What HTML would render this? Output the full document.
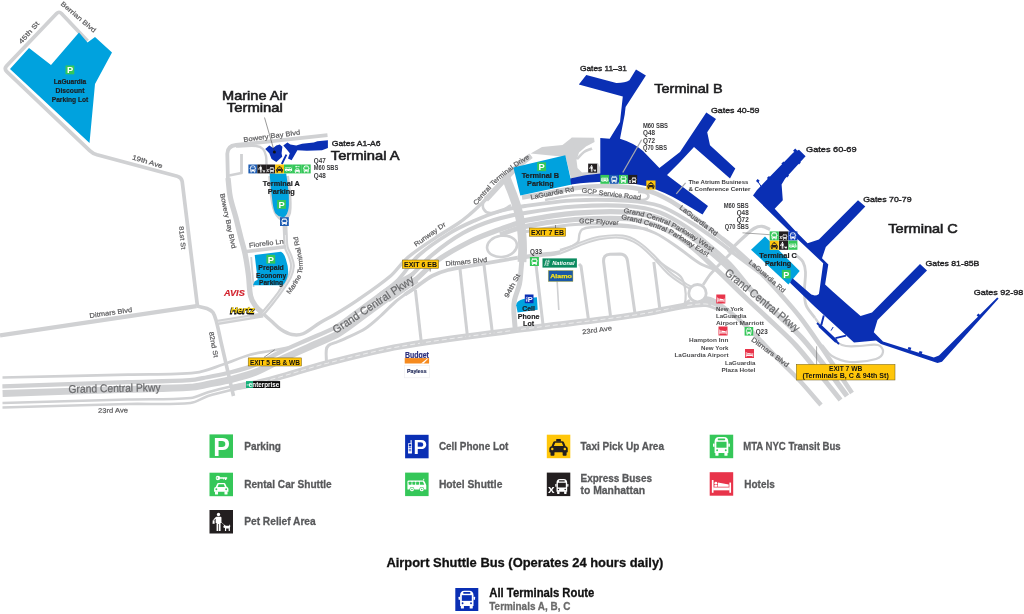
<!DOCTYPE html>
<html lang="en"><head><meta charset="utf-8"><title>LaGuardia Airport Map</title>
<style>
html,body{margin:0;padding:0;background:#fff;}
body{width:1024px;height:614px;overflow:hidden;font-family:"Liberation Sans",sans-serif;}
svg{display:block;will-change:transform;}
svg text{font-family:"Liberation Sans",sans-serif;}
</style></head><body>
<svg width="1024" height="614" viewBox="0 0 1024 614">
<rect width="1024" height="614" fill="#fff"/>
<g id="roads">
<path d="M87.5 41 L61.5 13.5 Q59 11 56.6 13.6 L6.5 66 Q4 69 6.8 71.6 L90 150.8 Q93 153.6 97 154.8 L177.3 176.2 Q181.6 177.4 182.2 181.5 L197.5 306.5" fill="none" stroke="#d0d1d3" stroke-width="3.7"/>
<path d="M0.0 335.3 L196.5 306.2" fill="none" stroke="#d0d1d3" stroke-width="4.30" stroke-linejoin="round" stroke-linecap="butt" />
<path d="M196.5 306.0 C200.0 306.8 203.7 307.2 207.0 308.5 C209.2 309.4 211.6 310.5 213.0 312.5 C214.9 315.3 215.6 318.7 216.5 322.0 C218.3 328.6 219.5 335.3 221.0 342.0 C225.1 360.0 229.3 378.0 233.5 396.0" fill="none" stroke="#d0d1d3" stroke-width="3.60" stroke-linejoin="round" stroke-linecap="butt" />
<path d="M216.5 322.6 L263.0 315.0" fill="none" stroke="#d0d1d3" stroke-width="5.20" stroke-linejoin="round" stroke-linecap="butt" />
<path d="M218.0 322.2 L250.0 317.0" fill="none" stroke="#fff" stroke-width="0.50" stroke-linejoin="round" stroke-linecap="butt" />
<path d="M327.5 135.2 L236 145 Q227.2 146 227.3 154 L228 183" fill="none" stroke="#d0d1d3" stroke-width="3.8"/>
<path d="M228.0 178.0 C228.8 184.4 229.0 190.9 230.3 197.3 C231.7 204.3 234.2 211.1 236.0 218.0 C237.8 225.0 239.5 232.0 241.2 239.0 C242.6 244.2 244.2 249.3 245.2 254.6 C246.6 261.5 247.6 268.4 248.5 275.4 C249.4 282.2 249.1 289.3 250.6 296.0 C251.4 299.6 253.4 303.0 255.5 306.0 C257.5 308.9 260.5 311.0 263.0 313.5" fill="none" stroke="#d0d1d3" stroke-width="5.30" stroke-linejoin="round" stroke-linecap="butt" />
<path d="M241.5 154.0 L241.5 173.0 L229.0 175.5" fill="none" stroke="#d0d1d3" stroke-width="2.80" stroke-linejoin="round" stroke-linecap="butt" />
<path d="M236.0 146.6 C242.7 146.4 249.4 145.4 256.0 146.0 C258.5 146.2 261.2 147.2 263.0 149.0 C264.8 150.8 265.5 153.5 266.0 156.0 C266.6 158.9 266.3 162.0 266.5 165.0" fill="none" stroke="#d0d1d3" stroke-width="2.40" stroke-linejoin="round" stroke-linecap="butt" />
<path d="M284.8 222.0 C285.0 226.3 285.2 230.7 285.4 235.0 C285.6 239.0 285.3 243.1 286.2 247.0 C286.9 250.2 289.0 252.9 290.0 256.0 C291.1 259.3 292.6 262.6 292.5 266.0 C292.4 269.8 291.1 273.6 289.5 277.0 C286.9 282.3 283.4 287.1 280.0 292.0 C276.9 296.5 273.4 300.7 270.0 305.0 C267.7 307.9 265.3 310.7 263.0 313.5" fill="none" stroke="#d0d1d3" stroke-width="4.80" stroke-linejoin="round" stroke-linecap="butt" />
<path d="M285.4 235.0 C285.7 239.0 285.3 243.1 286.2 247.0 C286.9 250.2 289.0 252.9 290.0 256.0 C291.1 259.3 292.6 262.6 292.5 266.0 C292.4 269.8 291.1 273.6 289.5 277.0 C286.9 282.3 283.4 287.1 280.0 292.0 C276.9 296.5 273.4 300.7 270.0 305.0 C267.7 307.9 265.3 310.7 263.0 313.5" fill="none" stroke="#fff" stroke-width="0.50" stroke-linejoin="round" stroke-linecap="butt" />
<path d="M246.5 251.5 L286.0 246.8" fill="none" stroke="#d0d1d3" stroke-width="3.60" stroke-linejoin="round" stroke-linecap="butt" />
<path d="M251.2 257.0 L253.6 287.0" fill="none" stroke="#d0d1d3" stroke-width="1.80" stroke-linejoin="round" stroke-linecap="butt" />
<path d="M263.0 313.5 C265.9 316.1 268.7 318.7 271.6 321.3 C274.7 324.1 277.5 327.2 281.0 329.5 C284.4 331.7 288.0 333.7 292.0 334.5 C295.6 335.2 299.6 335.1 303.0 333.7 C309.2 331.1 314.2 326.2 320.0 322.7 C324.6 319.9 329.4 317.7 334.0 315.0 C342.0 310.2 349.9 305.4 357.6 300.1 C368.7 292.5 379.9 285.0 390.2 276.3 C396.7 270.8 401.0 263.2 407.5 257.7 C416.9 249.8 427.4 243.3 437.6 236.4 C444.3 231.9 451.3 228.0 458.0 223.5 C461.8 220.9 465.3 218.1 468.8 215.2 C472.7 212.0 476.3 208.5 480.0 205.0 C483.4 201.8 486.8 198.6 490.1 195.2 C495.2 189.9 500.1 184.3 505.2 178.9 C509.3 174.6 513.3 170.2 517.7 166.3 C521.9 162.5 526.6 159.3 531.0 155.8" fill="none" stroke="#d0d1d3" stroke-width="3.40" stroke-linejoin="round" stroke-linecap="butt" />
<path d="M486.0 199.5 C487.4 198.1 488.7 196.6 490.1 195.2 C495.1 189.8 500.1 184.3 505.2 178.9 C509.3 174.6 513.3 170.2 517.7 166.3 C521.9 162.5 526.6 159.3 531.0 155.8" fill="none" stroke="#d0d1d3" stroke-width="5.60" stroke-linejoin="round" stroke-linecap="butt" />
<path d="M2.4 386.4 C44.2 385.0 86.0 383.6 127.9 382.2 C148.5 381.5 169.1 381.5 189.7 380.2 C195.6 379.8 201.4 378.3 207.2 377.2 C215.1 375.6 223.1 374.2 230.9 372.2 C238.7 370.3 246.5 368.3 253.9 365.2 C263.4 361.3 272.1 355.9 281.3 351.5 C290.2 347.3 299.2 343.5 308.2 339.5 C316.8 335.7 325.6 332.3 334.0 328.1 C337.0 326.6 339.7 324.4 342.4 322.4 C350.8 316.4 359.0 310.0 367.4 303.9 C375.8 297.8 384.1 291.6 392.8 285.8 C399.4 281.5 406.4 277.8 413.2 273.7" fill="none" stroke="#d0d1d3" stroke-width="4.20" stroke-linejoin="round" stroke-linecap="butt" />
<path d="M2.6 393.5 C44.4 392.1 86.3 390.7 128.1 389.3 C148.8 388.6 169.5 388.6 190.2 387.3 C196.4 386.9 202.4 385.3 208.5 384.2 C216.6 382.6 224.7 381.2 232.7 379.1 C240.8 377.0 248.9 375.0 256.6 371.8 C266.2 367.9 275.0 362.4 284.4 357.9 C293.2 353.8 302.2 349.9 311.1 346.0 C319.8 342.1 328.7 338.7 337.2 334.4 C340.6 332.7 343.5 330.4 346.6 328.2 C355.0 322.1 363.2 315.8 371.6 309.7 C379.9 303.6 388.1 297.4 396.7 291.8 C403.2 287.5 410.1 283.8 416.8 279.8" fill="none" stroke="#d0d1d3" stroke-width="6.90" stroke-linejoin="round" stroke-linecap="butt" />
<path d="M2.5 377.5 C44.3 376.5 86.2 375.6 128.0 374.6 C150.5 374.0 173.1 375.1 195.5 372.7 C205.0 371.7 213.9 367.5 223.0 364.5 C232.1 361.5 240.8 357.4 250.0 354.8 C256.5 352.9 263.3 352.3 270.0 351.0 C276.0 349.8 282.0 348.7 288.0 347.5" fill="none" stroke="#d0d1d3" stroke-width="2.70" stroke-linejoin="round" stroke-linecap="butt" />
<path d="M2.5 403.0 C44.3 401.8 86.2 400.6 128.0 399.5 C148.8 398.9 169.7 399.9 190.5 398.0 C196.6 397.4 202.1 393.9 208.0 392.2 C216.3 389.9 224.6 387.8 233.0 386.0 C240.3 384.4 247.7 383.3 255.0 382.0" fill="none" stroke="#d0d1d3" stroke-width="2.60" stroke-linejoin="round" stroke-linecap="butt" />
<path d="M2.5 407.5 C44.3 406.3 86.2 405.0 128.0 404.0 C148.8 403.5 169.8 405.1 190.5 403.0 C196.8 402.4 202.0 397.9 208.0 396.0 C216.2 393.4 224.6 391.5 233.0 389.5 C240.3 387.8 247.7 386.5 255.0 385.0" fill="none" stroke="#d0d1d3" stroke-width="2.60" stroke-linejoin="round" stroke-linecap="butt" />
<path d="M233.0 388.0 C240.3 386.5 247.7 385.2 255.0 383.5 C262.7 381.7 270.4 379.6 278.0 377.5 C294.7 372.8 311.2 367.3 328.0 363.0 C351.9 356.9 375.7 350.7 400.0 346.5 C439.8 339.6 480.0 334.9 520.0 329.5 C558.3 324.4 596.8 320.5 635.0 315.0 C651.8 312.6 668.3 308.4 685.0 305.8 C691.9 304.7 699.0 303.5 706.0 304.0 C710.9 304.4 715.3 307.0 720.0 308.5" fill="none" stroke="#d0d1d3" stroke-width="6.20" stroke-linejoin="round" stroke-linecap="butt" />
<path d="M255.0 383.5 C262.7 381.5 270.4 379.6 278.0 377.5 C294.7 372.8 311.2 367.3 328.0 363.0 C351.9 356.9 375.7 350.7 400.0 346.5 C439.8 339.6 480.0 334.9 520.0 329.5 C558.3 324.4 596.8 320.5 635.0 315.0 C651.8 312.6 668.3 308.4 685.0 305.8 C691.9 304.7 699.0 303.5 706.0 304.0 C710.9 304.4 715.3 307.0 720.0 308.5" fill="none" stroke="#fff" stroke-width="0.60" stroke-linejoin="round" stroke-linecap="butt" stroke-dasharray="5 3"/>
<path d="M326.5 362.5 C326.4 358.3 325.8 354.1 326.3 350.0 C326.5 348.3 327.2 346.5 328.5 345.5 C330.6 343.8 333.5 343.3 336.0 342.3 C339.0 341.0 342.1 340.0 345.0 338.6 C351.9 335.4 359.0 332.6 365.4 328.5 C370.7 325.1 375.3 320.7 380.0 316.5 C385.2 311.8 389.9 306.6 395.2 302.0 C398.3 299.3 401.7 296.9 405.0 294.5 C408.4 292.1 411.9 289.9 415.3 287.6" fill="none" stroke="#d0d1d3" stroke-width="3.00" stroke-linejoin="round" stroke-linecap="butt" />
<path d="M405.0 294.5 C408.4 292.2 411.9 289.9 415.3 287.6 C420.9 283.8 426.0 279.2 432.0 276.0 C437.0 273.3 442.5 271.4 448.0 270.0 C455.2 268.1 462.7 267.3 470.0 266.0 C485.9 263.2 501.9 260.5 517.8 257.7" fill="none" stroke="#d0d1d3" stroke-width="3.80" stroke-linejoin="round" stroke-linecap="butt" />
<path d="M517.8 257.7 C525.2 256.8 532.6 255.9 540.0 255.0 C546.7 254.1 553.5 254.1 560.0 252.3 C567.0 250.4 573.2 246.5 580.0 244.0 C586.2 241.7 592.5 239.1 599.0 238.0 C606.7 236.7 614.7 235.8 622.5 236.8 C628.0 237.5 633.3 240.0 638.0 243.0 C644.0 246.8 648.9 252.1 654.0 257.0 C659.3 262.1 663.5 268.1 669.0 273.0 C673.9 277.4 679.6 280.8 685.0 284.5 C686.9 285.8 689.0 286.8 691.0 288.0" fill="none" stroke="#d0d1d3" stroke-width="4.40" stroke-linejoin="round" stroke-linecap="butt" />
<path d="M560.0 252.3 C566.7 249.5 573.2 246.5 580.0 244.0 C586.2 241.7 592.5 239.1 599.0 238.0 C606.7 236.7 614.7 235.8 622.5 236.8 C628.0 237.5 633.3 240.0 638.0 243.0 C644.0 246.8 648.9 252.1 654.0 257.0 C659.3 262.1 663.5 268.1 669.0 273.0 C673.9 277.4 679.6 280.8 685.0 284.5 C686.9 285.8 689.0 286.8 691.0 288.0" fill="none" stroke="#fff" stroke-width="0.50" stroke-linejoin="round" stroke-linecap="butt" />
<path d="M415.4 290.0 L421.5 344.0" fill="none" stroke="#d0d1d3" stroke-width="3.00" stroke-linejoin="round" stroke-linecap="butt" />
<path d="M460.0 269.0 L467.5 337.0" fill="none" stroke="#d0d1d3" stroke-width="3.00" stroke-linejoin="round" stroke-linecap="butt" />
<path d="M484.0 265.0 L492.5 334.0" fill="none" stroke="#d0d1d3" stroke-width="3.00" stroke-linejoin="round" stroke-linecap="butt" />
<path d="M535.0 256.0 L543.5 329.0" fill="none" stroke="#d0d1d3" stroke-width="3.00" stroke-linejoin="round" stroke-linecap="butt" />
<path d="M556.5 270.0 L558.8 310.0" fill="none" stroke="#d0d1d3" stroke-width="1.60" stroke-linejoin="round" stroke-linecap="butt" />
<path d="M579.0 264.0 L581.0 266.0 L588.5 320.0" fill="none" stroke="#d0d1d3" stroke-width="3.00" stroke-linejoin="round" stroke-linecap="butt" />
<path d="M610.5 316 L603.6 262 Q603 254.5 610 254.3 L620 254.1 Q626.5 254.2 627.5 261 L635 313.5" fill="none" stroke="#d0d1d3" stroke-width="3"/>
<path d="M653.8 262.0 L660.0 310.0" fill="none" stroke="#d0d1d3" stroke-width="3.00" stroke-linejoin="round" stroke-linecap="butt" />
<path d="M505.5 176.0 C506.7 179.0 507.8 182.0 509.0 185.0 C510.3 188.4 511.8 191.8 513.0 195.2 C514.4 199.1 515.8 203.0 517.0 207.0 C518.2 211.0 519.3 214.9 520.0 219.0 C520.9 224.3 521.6 229.6 522.0 235.0 C522.4 240.0 522.6 245.0 522.6 250.0 C522.6 254.0 522.2 258.0 522.0 262.0" fill="none" stroke="#d0d1d3" stroke-width="8.80" stroke-linejoin="round" stroke-linecap="butt" />
<path d="M522.0 258.0 C521.7 262.0 521.4 266.0 521.0 270.0 C520.6 274.7 520.5 279.4 519.5 284.0 C518.3 289.5 515.7 294.5 514.5 300.0 C513.8 303.3 513.7 306.7 513.8 310.0 C514.0 317.4 514.9 324.7 515.5 332.0" fill="none" stroke="#d0d1d3" stroke-width="5.00" stroke-linejoin="round" stroke-linecap="butt" />
<path d="M522.0 197.5 C529.7 196.2 537.3 194.9 545.0 193.5 C554.0 191.9 562.9 189.7 572.0 188.5 C581.9 187.2 592.0 186.3 602.0 186.0 C609.7 185.8 617.4 186.2 625.0 187.0 C632.7 187.8 640.5 188.6 648.0 190.8 C655.0 192.8 661.6 196.0 668.0 199.5 C675.7 203.7 682.9 208.9 690.0 214.0 C700.0 221.2 709.7 228.9 719.5 236.5 C724.7 240.6 730.0 244.6 735.0 249.0 C743.5 256.5 751.9 264.0 760.0 272.0 C767.0 278.9 773.5 286.2 780.0 293.5 C786.8 301.2 793.7 308.9 800.0 317.0 C807.0 326.1 813.5 335.6 820.0 345.0 C826.8 354.9 833.3 365.0 840.0 375.0 C844.0 381.0 848.0 387.0 852.0 393.0" fill="none" stroke="#d0d1d3" stroke-width="4.60" stroke-linejoin="round" stroke-linecap="butt" />
<path d="M545.0 200.0 C555.0 198.4 564.9 195.9 575.0 195.3 C586.6 194.6 598.4 195.2 610.0 196.0 C618.7 196.6 627.3 198.6 636.0 199.5 C639.2 199.8 642.5 200.4 645.5 199.5 C647.0 199.1 648.6 197.5 648.5 196.0 C648.4 194.4 646.5 193.1 645.0 192.5 C642.8 191.7 640.3 192.2 638.0 192.0" fill="none" stroke="#d0d1d3" stroke-width="2.60" stroke-linejoin="round" stroke-linecap="butt" />
<path d="M378.0 296.0 C384.7 290.7 392.0 286.0 398.0 280.0 C405.4 272.6 410.3 263.0 418.0 256.0 C427.7 247.2 438.8 239.9 450.0 233.0 C457.9 228.1 466.5 224.3 475.0 220.5 C483.2 216.9 491.4 213.5 500.0 211.0 C508.2 208.6 516.6 207.2 525.0 206.0 C541.6 203.6 558.2 201.1 575.0 200.3 C592.6 199.4 610.4 199.6 628.0 200.8 C638.8 201.5 649.8 202.5 660.0 206.0 C670.7 209.7 680.3 216.2 690.0 222.0 C698.6 227.2 706.8 233.1 715.0 239.0 C723.5 245.1 731.6 251.7 740.0 258.0 C746.6 263.0 753.3 268.0 760.0 273.0" fill="none" stroke="#d0d1d3" stroke-width="3.80" stroke-linejoin="round" stroke-linecap="butt" />
<path d="M384.0 297.0 C391.0 291.8 398.5 287.2 405.0 281.5 C414.5 273.2 422.3 263.1 432.0 255.0 C441.7 246.9 452.0 239.2 463.0 233.0 C472.8 227.5 483.3 223.4 494.0 220.0 C504.1 216.7 514.6 214.7 525.0 213.0 C541.6 210.2 558.2 207.6 575.0 206.5 C592.6 205.3 610.4 204.8 628.0 206.0 C638.9 206.8 649.8 208.8 660.0 212.5 C670.0 216.2 679.1 222.1 688.0 228.0 C695.9 233.3 702.8 239.8 710.0 246.0 C716.8 251.8 723.8 257.5 730.0 264.0 C737.2 271.5 743.3 280.0 750.0 288.0" fill="none" stroke="#d0d1d3" stroke-width="4.20" stroke-linejoin="round" stroke-linecap="butt" />
<path d="M388.0 300.0 C395.3 294.8 403.0 290.1 410.0 284.5 C419.7 276.8 427.9 267.2 438.0 260.0 C448.0 252.8 459.0 247.1 470.0 241.5 C477.7 237.6 485.9 234.6 494.0 231.5 C500.9 228.8 508.0 226.5 515.0 224.0 C518.3 222.8 521.5 221.1 525.0 220.5 C541.6 217.5 558.2 214.6 575.0 213.2 C592.6 211.8 610.4 210.9 628.0 212.2 C639.6 213.0 651.2 215.3 662.0 219.5 C672.1 223.4 681.2 229.7 690.0 236.0 C701.2 243.9 711.7 252.9 722.0 262.0 C731.7 270.6 740.6 280.1 750.0 289.0 C759.9 298.4 770.0 307.6 780.0 317.0 C787.4 324.0 795.1 330.5 802.0 338.0 C809.8 346.6 816.9 355.8 824.0 365.0 C831.9 375.2 839.3 385.7 847.0 396.0" fill="none" stroke="#d0d1d3" stroke-width="5.20" stroke-linejoin="round" stroke-linecap="butt" />
<path d="M500.0 234.5 C508.3 231.8 516.4 228.2 525.0 226.5 C541.5 223.2 558.2 220.9 575.0 219.6 C592.6 218.3 610.4 217.3 628.0 218.8 C639.0 219.8 649.8 222.7 660.0 227.0 C670.1 231.2 679.3 237.4 688.0 244.0 C698.0 251.5 706.8 260.5 716.0 269.0 C725.8 278.1 735.2 287.8 745.0 297.0 C754.6 306.1 764.4 314.9 774.0 324.0 C781.4 331.1 789.1 337.9 796.0 345.5 C803.8 354.0 810.7 363.1 818.0 372.0 C825.6 381.3 833.0 390.7 840.5 400.0" fill="none" stroke="#d0d1d3" stroke-width="5.00" stroke-linejoin="round" stroke-linecap="butt" />
<path d="M523.0 232.0 C540.3 229.5 557.5 225.6 575.0 224.5 C592.6 223.4 610.4 223.6 628.0 225.5 C637.3 226.5 646.5 229.2 655.0 233.0 C664.0 237.1 671.8 243.4 680.0 249.0 C686.8 253.6 692.9 259.4 700.0 263.5 C705.0 266.4 710.7 267.8 716.0 270.0" fill="none" stroke="#d0d1d3" stroke-width="3.00" stroke-linejoin="round" stroke-linecap="butt" />
<path d="M560.0 250.0 C564.0 248.7 568.1 247.7 572.0 246.0 C574.2 245.0 576.7 244.0 578.0 242.0 C579.4 239.7 578.7 236.6 579.5 234.0 C580.0 232.4 580.5 230.4 582.0 229.5 C584.7 227.9 587.9 227.5 591.0 227.3 C600.6 226.5 610.3 226.2 620.0 226.5 C629.4 226.8 638.7 228.2 648.0 229.0" fill="none" stroke="#d0d1d3" stroke-width="2.40" stroke-linejoin="round" stroke-linecap="butt" />
<path d="M656.0 259.0 C660.0 262.0 663.9 265.1 668.0 268.0 C672.3 271.1 677.6 273.0 681.0 277.0 C683.5 280.0 684.3 284.2 685.0 288.0 C685.8 291.9 685.9 296.0 685.5 300.0 C685.2 302.8 683.8 305.3 683.0 308.0" fill="none" stroke="#d0d1d3" stroke-width="2.20" stroke-linejoin="round" stroke-linecap="butt" />
<ellipse cx="502" cy="246.3" rx="15" ry="10.6" fill="none" stroke="#d0d1d3" stroke-width="2.6" transform="rotate(-8 502 246.3)"/>
<path d="M492.7 192.6 C490.6 194.1 488.2 195.1 486.5 197.0 C485.0 198.7 483.7 200.8 483.2 203.0 C482.7 204.9 482.6 207.3 483.6 209.0 C484.7 210.9 486.7 212.6 488.9 212.9 C492.7 213.5 496.6 212.8 500.2 211.5 C504.2 210.1 507.4 207.2 511.0 205.0" fill="none" stroke="#d0d1d3" stroke-width="2.60" stroke-linejoin="round" stroke-linecap="butt" />
<path d="M728.0 252.0 C733.7 246.7 739.2 241.2 745.0 236.0 C747.9 233.4 750.6 230.4 754.0 228.5 C756.4 227.1 759.2 226.1 762.0 226.3 C764.9 226.5 767.3 228.4 770.0 229.5" fill="none" stroke="#d0d1d3" stroke-width="3.20" stroke-linejoin="round" stroke-linecap="butt" />
<path d="M796.0 255.0 C798.3 257.3 801.4 259.1 803.0 262.0 C804.7 265.0 805.3 268.6 805.5 272.0 C805.8 278.0 804.4 284.0 804.5 290.0 C804.6 295.0 804.2 300.3 806.0 305.0 C807.9 309.9 812.0 313.7 815.0 318.0" fill="none" stroke="#d0d1d3" stroke-width="2.80" stroke-linejoin="round" stroke-linecap="butt" />
<circle cx="697.5" cy="293.2" r="8.7" fill="none" stroke="#d0d1d3" stroke-width="2.8"/>
<path d="M703.0 285.0 C705.0 282.0 706.8 278.9 709.0 276.0 C711.2 273.2 713.6 270.6 716.0 268.0 C719.2 264.6 722.7 261.3 726.0 258.0 C728.7 255.3 731.3 252.7 734.0 250.0" fill="none" stroke="#d0d1d3" stroke-width="2.80" stroke-linejoin="round" stroke-linecap="butt" />
<path d="M706.0 297.5 C708.0 298.0 710.1 298.1 712.0 299.0 C714.9 300.3 717.3 302.3 720.0 304.0" fill="none" stroke="#d0d1d3" stroke-width="3.00" stroke-linejoin="round" stroke-linecap="butt" />
<path d="M690.0 300.0 C687.3 301.8 685.0 304.3 682.0 305.5 C678.9 306.8 675.3 306.8 672.0 307.5" fill="none" stroke="#d0d1d3" stroke-width="2.60" stroke-linejoin="round" stroke-linecap="butt" />
<path d="M704.0 299.0 C708.0 300.0 712.5 299.8 716.0 302.0 C726.4 308.6 735.9 316.6 745.0 325.0 C757.3 336.3 768.3 349.1 780.0 361.0 C786.6 367.7 793.6 374.1 800.0 381.0 C807.2 388.8 814.0 397.0 821.0 405.0" fill="none" stroke="#d0d1d3" stroke-width="4.40" stroke-linejoin="round" stroke-linecap="butt" />
<path d="M815.0 318.0 C818.7 322.7 821.8 327.8 826.0 332.0 C830.9 336.9 835.6 342.4 842.0 345.0 C847.6 347.3 854.0 346.0 860.0 346.0 C866.0 346.0 872.2 343.5 878.0 345.0 C880.8 345.7 883.4 349.2 883.0 352.0 C882.5 355.3 879.2 358.0 876.0 359.0 C867.7 361.5 858.7 362.6 850.0 362.0 C843.7 361.6 837.4 359.3 832.0 356.0 C827.8 353.4 825.3 348.7 822.0 345.0" fill="none" stroke="#d0d1d3" stroke-width="2.20" stroke-linejoin="round" stroke-linecap="butt" />
</g>
<g id="shapes">
<polygon points="563.0,150.0 572.0,137.5 594.0,137.8 594.6,142.0 586.0,146.5 579.0,152.5 576.5,160.0 577.5,168.0 582.0,172.5 588.0,172.0 588.0,163.0 598.0,163.0 600.3,168.0 600.3,174.0 585.0,175.5 571.0,178.6 565.5,156.0" fill="#d0d1d3" />
<path d="M577.0 159.0 C579.3 156.7 581.3 153.9 584.0 152.0 C586.4 150.3 589.3 149.7 592.0 148.5" fill="none" stroke="#d0d1d3" stroke-width="2.60" stroke-linejoin="round" stroke-linecap="butt" />
<polygon points="530.6,153.4 542.0,147.0 562.5,145.0 572.0,137.5 575.0,150.0 566.0,157.0" fill="#d0d1d3" />
<polygon points="10.0,69.0 29.0,48.0 51.0,65.0 79.0,32.5 87.5,42.5 95.0,37.0 112.0,52.5 95.0,84.0 89.5,143.0" fill="#00a2de" />
<path fill="none" stroke="#d0d1d3" stroke-width="4" stroke-linejoin="round" d="M270.2 176 L271.4 190 Q272.4 204 275.6 212 Q279 219 284 219.6 Q289.5 217 289.6 208 Q290 198 288.2 185 L287 176"/>
<path fill="#00a2de" d="M269.6 173.4 L286.2 173.4 L287.7 184.5 Q289.4 196 288.9 205 Q288.6 212 285.7 215.8 Q284 217.6 282.6 217.3 Q278 216.5 275.6 213.5 Q273.4 210 272.6 203 L271 189.4 Z"/>
<path fill="#00a2de" d="M254.7 254.9 L281 251.7 Q284 253 285.8 259 Q288.8 268 288 274 Q287 281 282.8 285.2 L253 285.2 L254.7 281.2 L257.6 279.8 Z"/>
<polygon points="513.4,167.5 565.3,155.3 571.9,184.4 520.3,195.6" fill="#00a2de" />
<polygon points="751.0,249.7 765.0,236.5 799.7,270.9 788.4,284.4" fill="#00a2de" />
<path fill="#00a2de" d="M516.2 305.2 Q516.6 301.6 520.5 300 Q526 297.8 536.9 297.2 L537.7 309.8 L517.6 312.5 Z"/>
<polygon points="265.2,149.0 269.3,145.6 273.2,148.0 276.3,145.6 279.8,144.4 282.4,146.8 281.6,153.2 282.2,156.8 276.3,162.0 271.6,159.0 269.3,153.2" fill="#0a2fb4" />
<path d="M281.8 164.0 L286.4 154.6" fill="none" stroke="#0a2fb4" stroke-width="1.90" stroke-linejoin="round" stroke-linecap="butt" />
<polygon points="283.3,145.5 287.4,142.6 290.4,144.4 296.2,145.5 302.1,143.8 313.8,142.6 317.4,141.2 327.9,140.2 327.9,147.9 322.0,150.2 306.8,150.8 297.4,150.2 291.6,160.2 288.0,158.4 289.8,153.2 287.4,150.2" fill="#0a2fb4" />
<path fill="#0a2fb4" d="M578.8 84.4 L586.3 75 L616.3 82.9 Q625 83 629.4 80.3 L636 69.4 L645.9 75.4 L625.6 106.9 L624.7 114.4 L620 138.8 Q634 143 643 151 L659.4 168 L680 152 L691.3 135 L706.3 112.5 L716 119 L707.2 132.2 L710 145.3 L735.3 168.5 L730 178.5 L694 147 L680 162 L667 175 L708 206 L702.5 214.4 L680 201 Q665 192 646 186 Q634 183 622 182.5 Q600 180.6 571 184.4 L570.3 178.4 Q585 174.8 600.3 173.5 L600.3 138 L609.7 138.8 L620 121.9 L622.8 96.6 Z"/>
<path fill="#0a2fb4" d="M799 149.7 L805.6 156.3 L785 178.8 L781.6 184.4 L782.8 200.3 L774.7 208.8 L796.3 232 L807.6 243.2 L818.9 239.4 L858 200.3 L865.3 206.5 L842.7 230 L825.8 246.9 L822 258.2 L828.3 264.5 L825.1 284.5 L832.7 291.4 L850.2 307 L860.6 316 L872 312.5 L920 264 L927 270.6 L877.5 320 L873.8 332.2 L883 341.5 L933.8 357.5 L939 355.6 L997.2 297.4 L998.6 298.6 L942 361.8 L937.5 363 L881 344 L876 340.4 L854 342.5 L815.1 307 L790 282.7 L792.5 278.3 L811.3 294.6 Q815.5 296.5 818.9 293.9 L819.5 290.2 L823.2 263.2 L796.9 238.6 L753 195.6 L757 190 L793.4 152.5 Z"/>
<rect x="793.7" y="149.2" width="3" height="3" fill="#0a2fb4" transform="rotate(45 795.2 150.7)"/>
<rect x="782.0" y="162.0" width="3" height="3" fill="#0a2fb4" transform="rotate(45 783.5 163.5)"/>
<rect x="767.5" y="176.5" width="3" height="3" fill="#0a2fb4" transform="rotate(45 769.0 178.0)"/>
<rect x="797.7" y="161.3" width="2.6" height="2.6" fill="#0a2fb4" transform="rotate(45 799.0 162.6)"/>
<rect x="785.9" y="174.3" width="2.6" height="2.6" fill="#0a2fb4" transform="rotate(45 787.2 175.6)"/>
<path d="M761.5 187.0 L758.2 182.0" fill="none" stroke="#0a2fb4" stroke-width="1.00" stroke-linejoin="round" stroke-linecap="butt" />
<rect x="756.5" y="179.6" width="2.6" height="2.6" fill="#0a2fb4" transform="rotate(40 757.8 180.9)"/>
<rect x="977.1" y="314.1" width="3" height="2.6" fill="#0a2fb4" transform="rotate(45 978.6 315.4)"/>
<rect x="908.0" y="347.3" width="3" height="2.6" fill="#0a2fb4" transform="rotate(18 909.5 348.6)"/>
<rect x="919.1" y="351.3" width="3" height="2.6" fill="#0a2fb4" transform="rotate(18 920.6 352.6)"/>
<path d="M819.5 325.5 L836.5 341.5" fill="none" stroke="#0a2fb4" stroke-width="3.40" stroke-linejoin="round" stroke-linecap="butt" />
<path d="M817.0 323.0 L839.0 344.0" fill="none" stroke="#0a2fb4" stroke-width="1.80" stroke-linejoin="round" stroke-linecap="butt" />
<path d="M823.8 315.5 L821.3 325.0" fill="none" stroke="#0a2fb4" stroke-width="1.90" stroke-linejoin="round" stroke-linecap="butt" />
<path d="M835.5 338.2 L846.0 335.6" fill="none" stroke="#0a2fb4" stroke-width="1.90" stroke-linejoin="round" stroke-linecap="butt" />
<path d="M833.2 327.0 L831.0 330.6" fill="none" stroke="#0a2fb4" stroke-width="1.00" stroke-linejoin="round" stroke-linecap="butt" />
</g>
<g id="icons">
<g transform="translate(65.50 65.50) scale(0.3667)"><rect width="24" height="24" fill="#35c759"/><text x="12.3" y="21.6" font-size="25.4" font-weight="bold" text-anchor="middle" fill="#fff">P</text></g>
<g transform="translate(277.10 200.00) scale(0.3667)"><rect width="24" height="24" fill="#35c759"/><text x="12.3" y="21.6" font-size="25.4" font-weight="bold" text-anchor="middle" fill="#fff">P</text></g>
<g transform="translate(266.40 254.80) scale(0.3667)"><rect width="24" height="24" fill="#35c759"/><text x="12.3" y="21.6" font-size="25.4" font-weight="bold" text-anchor="middle" fill="#fff">P</text></g>
<g transform="translate(537.20 162.30) scale(0.3667)"><rect width="24" height="24" fill="#35c759"/><text x="12.3" y="21.6" font-size="25.4" font-weight="bold" text-anchor="middle" fill="#fff">P</text></g>
<g transform="translate(781.90 269.80) scale(0.3583)"><rect width="24" height="24" fill="#35c759"/><text x="12.3" y="21.6" font-size="25.4" font-weight="bold" text-anchor="middle" fill="#fff">P</text></g>
<g transform="translate(524.80 294.50) scale(0.3625)"><rect width="24" height="24" fill="#0a2fb4"/><rect x="3" y="8.6" width="4" height="10.6" rx="0.4" fill="#fff"/><rect x="5.6" y="5.4" width="1.1" height="3.6" fill="#fff"/><rect x="3.7" y="9.6" width="2.6" height="2.2" fill="#0a2fb4"/><rect x="3.7" y="12.8" width="2.6" height="0.7" fill="#0a2fb4"/><rect x="3.7" y="14.4" width="2.6" height="0.7" fill="#0a2fb4"/><rect x="3.7" y="16" width="2.6" height="0.7" fill="#0a2fb4"/><text x="15.3" y="19.6" font-size="20.5" font-weight="bold" text-anchor="middle" fill="#fff">P</text></g>
<g transform="translate(248.40 164.50) scale(0.3708)"><rect width="24" height="24" fill="#1d5cb2"/><g transform="translate(0 -1.0) scale(1 1.06)"><g transform="translate(0.00 0) scale(1.000 1)"><path fill="#fff" d="M5 8.2 Q5 3.6 9.5 3.6 L14.5 3.6 Q19 3.6 19 8.2 L19 18.6 L5 18.6 Z"/><rect x="3.4" y="9.6" width="1.6" height="3" rx="0.5" fill="#fff"/><rect x="19" y="9.6" width="1.6" height="3" rx="0.5" fill="#fff"/><rect x="5.8" y="18" width="3.2" height="3.2" rx="0.6" fill="#fff"/><rect x="15" y="18" width="3.2" height="3.2" rx="0.6" fill="#fff"/><rect x="8.2" y="5" width="7.6" height="1.5" rx="0.6" fill="#1d5cb2"/><path fill="#1d5cb2" d="M6.8 8 L17.2 8 L17.2 13.6 L6.8 13.6 Z"/><circle cx="7.6" cy="16" r="0.95" fill="#1d5cb2"/><circle cx="16.4" cy="16" r="0.95" fill="#1d5cb2"/></g></g></g>
<g transform="translate(257.30 164.50) scale(0.3708)"><rect width="24" height="24" fill="#231f20"/><circle cx="9.2" cy="4.6" r="1.7" fill="#fff"/><path fill="#fff" d="M7 6.8 L11.4 6.8 Q12.2 6.8 12.2 7.8 L12.2 13.4 L11.3 13.4 L11.3 21.4 L9.6 21.4 L9.6 14.4 L8.9 14.4 L8.9 21.4 L7.2 21.4 L7.2 13.4 L6.3 13.4 L6.3 9 L4.6 10.4 L4 9.6 L6.2 7.4 Q6.5 6.8 7 6.8 Z"/><path fill="#fff" d="M3.3 10.4 L5.1 10.4 L5.3 14 L3.1 14 Z"/><path stroke="#fff" stroke-width="0.5" fill="none" d="M12 12.6 L15.8 16"/><path fill="#fff" d="M14.2 16.6 L15.4 15 L16.6 16 L20 16 L20.8 14.6 L21.2 16.6 L20.8 18 L20.8 21.4 L19.6 21.4 L19.6 19 L17 19 L17 21.4 L15.8 21.4 L15.8 18.4 L14.2 17.8 Z"/></g>
<g transform="translate(266.20 164.50) scale(0.3708)"><rect width="24" height="24" fill="#231f20"/><g transform="translate(6.0 3.5) scale(0.78 0.86)"><g transform="translate(0.00 0) scale(1.000 1)"><path fill="#fff" d="M5 8.2 Q5 3.6 9.5 3.6 L14.5 3.6 Q19 3.6 19 8.2 L19 18.6 L5 18.6 Z"/><rect x="3.4" y="9.6" width="1.6" height="3" rx="0.5" fill="#fff"/><rect x="19" y="9.6" width="1.6" height="3" rx="0.5" fill="#fff"/><rect x="5.8" y="18" width="3.2" height="3.2" rx="0.6" fill="#fff"/><rect x="15" y="18" width="3.2" height="3.2" rx="0.6" fill="#fff"/><rect x="8.2" y="5" width="7.6" height="1.5" rx="0.6" fill="#231f20"/><path fill="#231f20" d="M6.8 8 L17.2 8 L17.2 13.6 L6.8 13.6 Z"/><circle cx="7.6" cy="16" r="0.95" fill="#231f20"/><circle cx="16.4" cy="16" r="0.95" fill="#231f20"/></g></g><text x="4.5" y="21.2" font-size="12" font-weight="bold" text-anchor="middle" fill="#fff">x</text></g>
<g transform="translate(275.10 164.50) scale(0.3708)"><rect width="24" height="24" fill="#ffc60a"/><g transform="translate(0.00 0.20) scale(1.000)"><rect x="9.6" y="4.2" width="4.8" height="2.6" rx="0.4" fill="#231f20"/><path fill="#231f20" d="M8.2 6.4 L15.8 6.4 Q17 6.4 17.5 7.6 L19.2 11.6 Q21.4 12 21.4 14 L21.4 17.6 L2.6 17.6 L2.6 14 Q2.6 12 4.8 11.6 L6.5 7.6 Q7 6.4 8.2 6.4 Z"/><rect x="3.8" y="17" width="4" height="4.4" rx="0.8" fill="#231f20"/><rect x="16.2" y="17" width="4" height="4.4" rx="0.8" fill="#231f20"/><path fill="#ffc60a" d="M8.6 8 L15.4 8 L16.8 11.4 L7.2 11.4 Z"/><circle cx="5.6" cy="14.4" r="1.25" fill="#ffc60a"/><circle cx="18.4" cy="14.4" r="1.25" fill="#ffc60a"/></g></g>
<g transform="translate(284.00 164.50) scale(0.3708)"><rect width="24" height="24" fill="#35c759"/><path fill="#fff" d="M3.6 8 L18 8 Q19.6 8 20.2 9.6 L21.6 13 L21.6 17.2 L2.4 17.2 L2.4 9.2 Q2.4 8 3.6 8 Z"/><path fill="#fff" d="M18.2 8 L18.8 6.2 L19.6 6.2 L19.4 8 Z"/><rect x="3.6" y="9.4" width="3" height="3" rx="0.4" fill="#35c759"/><rect x="7.4" y="9.4" width="3" height="3" rx="0.4" fill="#35c759"/><rect x="11.2" y="9.4" width="3" height="3" rx="0.4" fill="#35c759"/><path fill="#35c759" d="M15 9.4 L18.2 9.4 L19.6 12.4 L15 12.4 Z"/><circle cx="7" cy="17.2" r="2.5" fill="#35c759"/><circle cx="7" cy="17.2" r="1.9" fill="#fff"/><circle cx="7" cy="17.2" r="0.8" fill="#35c759"/><circle cx="17" cy="17.2" r="2.5" fill="#35c759"/><circle cx="17" cy="17.2" r="1.9" fill="#fff"/><circle cx="17" cy="17.2" r="0.8" fill="#35c759"/></g>
<g transform="translate(292.90 164.50) scale(0.3708)"><rect width="24" height="24" fill="#35c759"/><circle cx="8.6" cy="5.4" r="2.3" fill="#fff"/><circle cx="7.9" cy="5.4" r="0.75" fill="#35c759"/><path fill="#fff" d="M10 4.6 L18 4.6 L18 6.2 L17.2 6.2 L17.2 7.4 L15.8 7.4 L15.8 6.2 L15 6.2 L15 7 L14 7 L14 6.2 L10 6.2 Z"/><g transform="translate(2.64 5.60) scale(0.780)"><path fill="#fff" d="M8.2 6.4 L15.8 6.4 Q17 6.4 17.5 7.6 L19.2 11.6 Q21.4 12 21.4 14 L21.4 17.6 L2.6 17.6 L2.6 14 Q2.6 12 4.8 11.6 L6.5 7.6 Q7 6.4 8.2 6.4 Z"/><rect x="3.8" y="17" width="4" height="4.4" rx="0.8" fill="#fff"/><rect x="16.2" y="17" width="4" height="4.4" rx="0.8" fill="#fff"/><path fill="#35c759" d="M8.6 8 L15.4 8 L16.8 11.4 L7.2 11.4 Z"/><circle cx="5.6" cy="14.4" r="1.25" fill="#35c759"/><circle cx="18.4" cy="14.4" r="1.25" fill="#35c759"/></g></g>
<g transform="translate(301.80 164.50) scale(0.3708)"><rect width="24" height="24" fill="#35c759"/><g transform="translate(0 -1.52) scale(1 1.09)"><g transform="translate(0.00 0) scale(1.000 1)"><path fill="#fff" d="M5 8.2 Q5 3.6 9.5 3.6 L14.5 3.6 Q19 3.6 19 8.2 L19 18.6 L5 18.6 Z"/><rect x="3.4" y="9.6" width="1.6" height="3" rx="0.5" fill="#fff"/><rect x="19" y="9.6" width="1.6" height="3" rx="0.5" fill="#fff"/><rect x="5.8" y="18" width="3.2" height="3.2" rx="0.6" fill="#fff"/><rect x="15" y="18" width="3.2" height="3.2" rx="0.6" fill="#fff"/><rect x="8.2" y="5" width="7.6" height="1.5" rx="0.6" fill="#35c759"/><path fill="#35c759" d="M6.8 8 L17.2 8 L17.2 13.6 L6.8 13.6 Z"/><circle cx="7.6" cy="16" r="0.95" fill="#35c759"/><circle cx="16.4" cy="16" r="0.95" fill="#35c759"/></g></g></g>
<g transform="translate(280.00 217.20) scale(0.3667)"><rect width="24" height="24" fill="#1d5cb2"/><g transform="translate(0 -1.0) scale(1 1.06)"><g transform="translate(0.00 0) scale(1.000 1)"><path fill="#fff" d="M5 8.2 Q5 3.6 9.5 3.6 L14.5 3.6 Q19 3.6 19 8.2 L19 18.6 L5 18.6 Z"/><rect x="3.4" y="9.6" width="1.6" height="3" rx="0.5" fill="#fff"/><rect x="19" y="9.6" width="1.6" height="3" rx="0.5" fill="#fff"/><rect x="5.8" y="18" width="3.2" height="3.2" rx="0.6" fill="#fff"/><rect x="15" y="18" width="3.2" height="3.2" rx="0.6" fill="#fff"/><rect x="8.2" y="5" width="7.6" height="1.5" rx="0.6" fill="#1d5cb2"/><path fill="#1d5cb2" d="M6.8 8 L17.2 8 L17.2 13.6 L6.8 13.6 Z"/><circle cx="7.6" cy="16" r="0.95" fill="#1d5cb2"/><circle cx="16.4" cy="16" r="0.95" fill="#1d5cb2"/></g></g></g>
<g transform="translate(588.20 163.80) scale(0.3708)"><rect width="24" height="24" fill="#231f20"/><circle cx="9.2" cy="4.6" r="1.7" fill="#fff"/><path fill="#fff" d="M7 6.8 L11.4 6.8 Q12.2 6.8 12.2 7.8 L12.2 13.4 L11.3 13.4 L11.3 21.4 L9.6 21.4 L9.6 14.4 L8.9 14.4 L8.9 21.4 L7.2 21.4 L7.2 13.4 L6.3 13.4 L6.3 9 L4.6 10.4 L4 9.6 L6.2 7.4 Q6.5 6.8 7 6.8 Z"/><path fill="#fff" d="M3.3 10.4 L5.1 10.4 L5.3 14 L3.1 14 Z"/><path stroke="#fff" stroke-width="0.5" fill="none" d="M12 12.6 L15.8 16"/><path fill="#fff" d="M14.2 16.6 L15.4 15 L16.6 16 L20 16 L20.8 14.6 L21.2 16.6 L20.8 18 L20.8 21.4 L19.6 21.4 L19.6 19 L17 19 L17 21.4 L15.8 21.4 L15.8 18.4 L14.2 17.8 Z"/></g>
<g transform="translate(600.40 174.90) scale(0.3708)"><rect width="24" height="24" fill="#35c759"/><path fill="#fff" d="M3.6 8 L18 8 Q19.6 8 20.2 9.6 L21.6 13 L21.6 17.2 L2.4 17.2 L2.4 9.2 Q2.4 8 3.6 8 Z"/><path fill="#fff" d="M18.2 8 L18.8 6.2 L19.6 6.2 L19.4 8 Z"/><rect x="3.6" y="9.4" width="3" height="3" rx="0.4" fill="#35c759"/><rect x="7.4" y="9.4" width="3" height="3" rx="0.4" fill="#35c759"/><rect x="11.2" y="9.4" width="3" height="3" rx="0.4" fill="#35c759"/><path fill="#35c759" d="M15 9.4 L18.2 9.4 L19.6 12.4 L15 12.4 Z"/><circle cx="7" cy="17.2" r="2.5" fill="#35c759"/><circle cx="7" cy="17.2" r="1.9" fill="#fff"/><circle cx="7" cy="17.2" r="0.8" fill="#35c759"/><circle cx="17" cy="17.2" r="2.5" fill="#35c759"/><circle cx="17" cy="17.2" r="1.9" fill="#fff"/><circle cx="17" cy="17.2" r="0.8" fill="#35c759"/></g>
<g transform="translate(609.70 174.90) scale(0.3708)"><rect width="24" height="24" fill="#1d5cb2"/><g transform="translate(0 -1.0) scale(1 1.06)"><g transform="translate(0.00 0) scale(1.000 1)"><path fill="#fff" d="M5 8.2 Q5 3.6 9.5 3.6 L14.5 3.6 Q19 3.6 19 8.2 L19 18.6 L5 18.6 Z"/><rect x="3.4" y="9.6" width="1.6" height="3" rx="0.5" fill="#fff"/><rect x="19" y="9.6" width="1.6" height="3" rx="0.5" fill="#fff"/><rect x="5.8" y="18" width="3.2" height="3.2" rx="0.6" fill="#fff"/><rect x="15" y="18" width="3.2" height="3.2" rx="0.6" fill="#fff"/><rect x="8.2" y="5" width="7.6" height="1.5" rx="0.6" fill="#1d5cb2"/><path fill="#1d5cb2" d="M6.8 8 L17.2 8 L17.2 13.6 L6.8 13.6 Z"/><circle cx="7.6" cy="16" r="0.95" fill="#1d5cb2"/><circle cx="16.4" cy="16" r="0.95" fill="#1d5cb2"/></g></g></g>
<g transform="translate(619.00 174.90) scale(0.3708)"><rect width="24" height="24" fill="#35c759"/><g transform="translate(0 -1.52) scale(1 1.09)"><g transform="translate(0.00 0) scale(1.000 1)"><path fill="#fff" d="M5 8.2 Q5 3.6 9.5 3.6 L14.5 3.6 Q19 3.6 19 8.2 L19 18.6 L5 18.6 Z"/><rect x="3.4" y="9.6" width="1.6" height="3" rx="0.5" fill="#fff"/><rect x="19" y="9.6" width="1.6" height="3" rx="0.5" fill="#fff"/><rect x="5.8" y="18" width="3.2" height="3.2" rx="0.6" fill="#fff"/><rect x="15" y="18" width="3.2" height="3.2" rx="0.6" fill="#fff"/><rect x="8.2" y="5" width="7.6" height="1.5" rx="0.6" fill="#35c759"/><path fill="#35c759" d="M6.8 8 L17.2 8 L17.2 13.6 L6.8 13.6 Z"/><circle cx="7.6" cy="16" r="0.95" fill="#35c759"/><circle cx="16.4" cy="16" r="0.95" fill="#35c759"/></g></g></g>
<g transform="translate(628.30 174.90) scale(0.3708)"><rect width="24" height="24" fill="#231f20"/><g transform="translate(6.0 3.5) scale(0.78 0.86)"><g transform="translate(0.00 0) scale(1.000 1)"><path fill="#fff" d="M5 8.2 Q5 3.6 9.5 3.6 L14.5 3.6 Q19 3.6 19 8.2 L19 18.6 L5 18.6 Z"/><rect x="3.4" y="9.6" width="1.6" height="3" rx="0.5" fill="#fff"/><rect x="19" y="9.6" width="1.6" height="3" rx="0.5" fill="#fff"/><rect x="5.8" y="18" width="3.2" height="3.2" rx="0.6" fill="#fff"/><rect x="15" y="18" width="3.2" height="3.2" rx="0.6" fill="#fff"/><rect x="8.2" y="5" width="7.6" height="1.5" rx="0.6" fill="#231f20"/><path fill="#231f20" d="M6.8 8 L17.2 8 L17.2 13.6 L6.8 13.6 Z"/><circle cx="7.6" cy="16" r="0.95" fill="#231f20"/><circle cx="16.4" cy="16" r="0.95" fill="#231f20"/></g></g><text x="4.5" y="21.2" font-size="12" font-weight="bold" text-anchor="middle" fill="#fff">x</text></g>
<g transform="translate(646.30 180.50) scale(0.3833)"><rect width="24" height="24" fill="#ffc60a"/><g transform="translate(0.00 0.20) scale(1.000)"><rect x="9.6" y="4.2" width="4.8" height="2.6" rx="0.4" fill="#231f20"/><path fill="#231f20" d="M8.2 6.4 L15.8 6.4 Q17 6.4 17.5 7.6 L19.2 11.6 Q21.4 12 21.4 14 L21.4 17.6 L2.6 17.6 L2.6 14 Q2.6 12 4.8 11.6 L6.5 7.6 Q7 6.4 8.2 6.4 Z"/><rect x="3.8" y="17" width="4" height="4.4" rx="0.8" fill="#231f20"/><rect x="16.2" y="17" width="4" height="4.4" rx="0.8" fill="#231f20"/><path fill="#ffc60a" d="M8.6 8 L15.4 8 L16.8 11.4 L7.2 11.4 Z"/><circle cx="5.6" cy="14.4" r="1.25" fill="#ffc60a"/><circle cx="18.4" cy="14.4" r="1.25" fill="#ffc60a"/></g></g>
<g transform="translate(769.70 231.40) scale(0.3792)"><rect width="24" height="24" fill="#35c759"/><g transform="translate(0 -1.52) scale(1 1.09)"><g transform="translate(0.00 0) scale(1.000 1)"><path fill="#fff" d="M5 8.2 Q5 3.6 9.5 3.6 L14.5 3.6 Q19 3.6 19 8.2 L19 18.6 L5 18.6 Z"/><rect x="3.4" y="9.6" width="1.6" height="3" rx="0.5" fill="#fff"/><rect x="19" y="9.6" width="1.6" height="3" rx="0.5" fill="#fff"/><rect x="5.8" y="18" width="3.2" height="3.2" rx="0.6" fill="#fff"/><rect x="15" y="18" width="3.2" height="3.2" rx="0.6" fill="#fff"/><rect x="8.2" y="5" width="7.6" height="1.5" rx="0.6" fill="#35c759"/><path fill="#35c759" d="M6.8 8 L17.2 8 L17.2 13.6 L6.8 13.6 Z"/><circle cx="7.6" cy="16" r="0.95" fill="#35c759"/><circle cx="16.4" cy="16" r="0.95" fill="#35c759"/></g></g></g>
<g transform="translate(779.00 231.40) scale(0.3792)"><rect width="24" height="24" fill="#231f20"/><g transform="translate(6.0 3.5) scale(0.78 0.86)"><g transform="translate(0.00 0) scale(1.000 1)"><path fill="#fff" d="M5 8.2 Q5 3.6 9.5 3.6 L14.5 3.6 Q19 3.6 19 8.2 L19 18.6 L5 18.6 Z"/><rect x="3.4" y="9.6" width="1.6" height="3" rx="0.5" fill="#fff"/><rect x="19" y="9.6" width="1.6" height="3" rx="0.5" fill="#fff"/><rect x="5.8" y="18" width="3.2" height="3.2" rx="0.6" fill="#fff"/><rect x="15" y="18" width="3.2" height="3.2" rx="0.6" fill="#fff"/><rect x="8.2" y="5" width="7.6" height="1.5" rx="0.6" fill="#231f20"/><path fill="#231f20" d="M6.8 8 L17.2 8 L17.2 13.6 L6.8 13.6 Z"/><circle cx="7.6" cy="16" r="0.95" fill="#231f20"/><circle cx="16.4" cy="16" r="0.95" fill="#231f20"/></g></g><text x="4.5" y="21.2" font-size="12" font-weight="bold" text-anchor="middle" fill="#fff">x</text></g>
<g transform="translate(788.30 231.40) scale(0.3792)"><rect width="24" height="24" fill="#0f3db8"/><g transform="translate(0 -1.0) scale(1 1.06)"><g transform="translate(0.00 0) scale(1.000 1)"><path fill="#fff" d="M5 8.2 Q5 3.6 9.5 3.6 L14.5 3.6 Q19 3.6 19 8.2 L19 18.6 L5 18.6 Z"/><rect x="3.4" y="9.6" width="1.6" height="3" rx="0.5" fill="#fff"/><rect x="19" y="9.6" width="1.6" height="3" rx="0.5" fill="#fff"/><rect x="5.8" y="18" width="3.2" height="3.2" rx="0.6" fill="#fff"/><rect x="15" y="18" width="3.2" height="3.2" rx="0.6" fill="#fff"/><rect x="8.2" y="5" width="7.6" height="1.5" rx="0.6" fill="#0f3db8"/><path fill="#0f3db8" d="M6.8 8 L17.2 8 L17.2 13.6 L6.8 13.6 Z"/><circle cx="7.6" cy="16" r="0.95" fill="#0f3db8"/><circle cx="16.4" cy="16" r="0.95" fill="#0f3db8"/></g></g></g>
<g transform="translate(769.70 240.70) scale(0.3792)"><rect width="24" height="24" fill="#ffc60a"/><g transform="translate(0.00 0.20) scale(1.000)"><rect x="9.6" y="4.2" width="4.8" height="2.6" rx="0.4" fill="#231f20"/><path fill="#231f20" d="M8.2 6.4 L15.8 6.4 Q17 6.4 17.5 7.6 L19.2 11.6 Q21.4 12 21.4 14 L21.4 17.6 L2.6 17.6 L2.6 14 Q2.6 12 4.8 11.6 L6.5 7.6 Q7 6.4 8.2 6.4 Z"/><rect x="3.8" y="17" width="4" height="4.4" rx="0.8" fill="#231f20"/><rect x="16.2" y="17" width="4" height="4.4" rx="0.8" fill="#231f20"/><path fill="#ffc60a" d="M8.6 8 L15.4 8 L16.8 11.4 L7.2 11.4 Z"/><circle cx="5.6" cy="14.4" r="1.25" fill="#ffc60a"/><circle cx="18.4" cy="14.4" r="1.25" fill="#ffc60a"/></g></g>
<g transform="translate(779.00 240.70) scale(0.3792)"><rect width="24" height="24" fill="#231f20"/><circle cx="9.2" cy="4.6" r="1.7" fill="#fff"/><path fill="#fff" d="M7 6.8 L11.4 6.8 Q12.2 6.8 12.2 7.8 L12.2 13.4 L11.3 13.4 L11.3 21.4 L9.6 21.4 L9.6 14.4 L8.9 14.4 L8.9 21.4 L7.2 21.4 L7.2 13.4 L6.3 13.4 L6.3 9 L4.6 10.4 L4 9.6 L6.2 7.4 Q6.5 6.8 7 6.8 Z"/><path fill="#fff" d="M3.3 10.4 L5.1 10.4 L5.3 14 L3.1 14 Z"/><path stroke="#fff" stroke-width="0.5" fill="none" d="M12 12.6 L15.8 16"/><path fill="#fff" d="M14.2 16.6 L15.4 15 L16.6 16 L20 16 L20.8 14.6 L21.2 16.6 L20.8 18 L20.8 21.4 L19.6 21.4 L19.6 19 L17 19 L17 21.4 L15.8 21.4 L15.8 18.4 L14.2 17.8 Z"/></g>
<g transform="translate(788.30 240.70) scale(0.3792)"><rect width="24" height="24" fill="#35c759"/><path fill="#fff" d="M3.6 8 L18 8 Q19.6 8 20.2 9.6 L21.6 13 L21.6 17.2 L2.4 17.2 L2.4 9.2 Q2.4 8 3.6 8 Z"/><path fill="#fff" d="M18.2 8 L18.8 6.2 L19.6 6.2 L19.4 8 Z"/><rect x="3.6" y="9.4" width="3" height="3" rx="0.4" fill="#35c759"/><rect x="7.4" y="9.4" width="3" height="3" rx="0.4" fill="#35c759"/><rect x="11.2" y="9.4" width="3" height="3" rx="0.4" fill="#35c759"/><path fill="#35c759" d="M15 9.4 L18.2 9.4 L19.6 12.4 L15 12.4 Z"/><circle cx="7" cy="17.2" r="2.5" fill="#35c759"/><circle cx="7" cy="17.2" r="1.9" fill="#fff"/><circle cx="7" cy="17.2" r="0.8" fill="#35c759"/><circle cx="17" cy="17.2" r="2.5" fill="#35c759"/><circle cx="17" cy="17.2" r="1.9" fill="#fff"/><circle cx="17" cy="17.2" r="0.8" fill="#35c759"/></g>
<g transform="translate(529.90 257.00) scale(0.3750)"><rect width="24" height="24" fill="#35c759"/><g transform="translate(0 -1.52) scale(1 1.09)"><g transform="translate(0.00 0) scale(1.000 1)"><path fill="#fff" d="M5 8.2 Q5 3.6 9.5 3.6 L14.5 3.6 Q19 3.6 19 8.2 L19 18.6 L5 18.6 Z"/><rect x="3.4" y="9.6" width="1.6" height="3" rx="0.5" fill="#fff"/><rect x="19" y="9.6" width="1.6" height="3" rx="0.5" fill="#fff"/><rect x="5.8" y="18" width="3.2" height="3.2" rx="0.6" fill="#fff"/><rect x="15" y="18" width="3.2" height="3.2" rx="0.6" fill="#fff"/><rect x="8.2" y="5" width="7.6" height="1.5" rx="0.6" fill="#35c759"/><path fill="#35c759" d="M6.8 8 L17.2 8 L17.2 13.6 L6.8 13.6 Z"/><circle cx="7.6" cy="16" r="0.95" fill="#35c759"/><circle cx="16.4" cy="16" r="0.95" fill="#35c759"/></g></g></g>
<g transform="translate(744.60 327.00) scale(0.3583)"><rect width="24" height="24" fill="#35c759"/><g transform="translate(0 -1.52) scale(1 1.09)"><g transform="translate(0.00 0) scale(1.000 1)"><path fill="#fff" d="M5 8.2 Q5 3.6 9.5 3.6 L14.5 3.6 Q19 3.6 19 8.2 L19 18.6 L5 18.6 Z"/><rect x="3.4" y="9.6" width="1.6" height="3" rx="0.5" fill="#fff"/><rect x="19" y="9.6" width="1.6" height="3" rx="0.5" fill="#fff"/><rect x="5.8" y="18" width="3.2" height="3.2" rx="0.6" fill="#fff"/><rect x="15" y="18" width="3.2" height="3.2" rx="0.6" fill="#fff"/><rect x="8.2" y="5" width="7.6" height="1.5" rx="0.6" fill="#35c759"/><path fill="#35c759" d="M6.8 8 L17.2 8 L17.2 13.6 L6.8 13.6 Z"/><circle cx="7.6" cy="16" r="0.95" fill="#35c759"/><circle cx="16.4" cy="16" r="0.95" fill="#35c759"/></g></g></g>
<g transform="translate(716.30 294.50) scale(0.3750)"><rect width="24" height="24" fill="#e8344a"/><rect x="2.2" y="8" width="1.7" height="13" fill="#fff"/><rect x="20.1" y="10.6" width="1.7" height="10.4" fill="#fff"/><rect x="3.5" y="15.6" width="17" height="2.9" fill="#fff"/><path fill="#fff" d="M8.4 10.4 L19.4 12.6 L19.4 14.9 L8.4 14.9 Z"/><circle cx="6.3" cy="11.2" r="1.45" fill="#fff"/><rect x="4.8" y="13" width="3" height="1.9" fill="#fff"/></g>
<g transform="translate(718.50 326.50) scale(0.3750)"><rect width="24" height="24" fill="#e8344a"/><rect x="2.2" y="8" width="1.7" height="13" fill="#fff"/><rect x="20.1" y="10.6" width="1.7" height="10.4" fill="#fff"/><rect x="3.5" y="15.6" width="17" height="2.9" fill="#fff"/><path fill="#fff" d="M8.4 10.4 L19.4 12.6 L19.4 14.9 L8.4 14.9 Z"/><circle cx="6.3" cy="11.2" r="1.45" fill="#fff"/><rect x="4.8" y="13" width="3" height="1.9" fill="#fff"/></g>
<g transform="translate(745.00 349.00) scale(0.3750)"><rect width="24" height="24" fill="#e8344a"/><rect x="2.2" y="8" width="1.7" height="13" fill="#fff"/><rect x="20.1" y="10.6" width="1.7" height="10.4" fill="#fff"/><rect x="3.5" y="15.6" width="17" height="2.9" fill="#fff"/><path fill="#fff" d="M8.4 10.4 L19.4 12.6 L19.4 14.9 L8.4 14.9 Z"/><circle cx="6.3" cy="11.2" r="1.45" fill="#fff"/><rect x="4.8" y="13" width="3" height="1.9" fill="#fff"/></g>
</g>
<g id="labels">
<text transform="translate(28.8 32.5) rotate(-48.0)" x="0" y="2.41" font-size="6.70" fill="#5b5b5d" text-anchor="middle" stroke="#5b5b5d" stroke-width="0.20" textLength="27.0" lengthAdjust="spacingAndGlyphs" >45th St</text>
<text transform="translate(78.6 16.9) rotate(40.4)" x="0" y="2.41" font-size="6.70" fill="#5b5b5d" text-anchor="middle" stroke="#5b5b5d" stroke-width="0.20" textLength="44.0" lengthAdjust="spacingAndGlyphs" >Berrian Blvd</text>
<text transform="translate(147.5 161.5) rotate(17.0)" x="0" y="2.41" font-size="6.70" fill="#5b5b5d" text-anchor="middle" stroke="#5b5b5d" stroke-width="0.20" textLength="31.5" lengthAdjust="spacingAndGlyphs" >19th Ave</text>
<text transform="translate(182.5 237.8) rotate(84.0)" x="0" y="2.41" font-size="6.70" fill="#5b5b5d" text-anchor="middle" stroke="#5b5b5d" stroke-width="0.20" textLength="23.0" lengthAdjust="spacingAndGlyphs" >81st St</text>
<text transform="translate(228.3 220.8) rotate(78.0)" x="0" y="2.41" font-size="6.70" fill="#5b5b5d" text-anchor="middle" stroke="#5b5b5d" stroke-width="0.20" textLength="56.0" lengthAdjust="spacingAndGlyphs" >Bowery Bay Blvd</text>
<text transform="translate(110.8 312.5) rotate(-8.0)" x="0" y="2.41" font-size="6.70" fill="#5b5b5d" text-anchor="middle" stroke="#5b5b5d" stroke-width="0.20" textLength="43.0" lengthAdjust="spacingAndGlyphs" >Ditmars Blvd</text>
<text transform="translate(213.8 344.5) rotate(79.0)" x="0" y="2.41" font-size="6.70" fill="#5b5b5d" text-anchor="middle" stroke="#5b5b5d" stroke-width="0.20" textLength="26.0" lengthAdjust="spacingAndGlyphs" >82nd St</text>
<text transform="translate(114.5 388.0) rotate(-1.0)" x="0" y="4.07" font-size="11.30" fill="#68696b" text-anchor="middle" stroke="#68696b" stroke-width="0.20" textLength="92.0" lengthAdjust="spacingAndGlyphs" >Grand Central Pkwy</text>
<text transform="translate(113.0 410.3) rotate(-1.0)" x="0" y="2.41" font-size="6.70" fill="#5b5b5d" text-anchor="middle" stroke="#5b5b5d" stroke-width="0.20" textLength="30.0" lengthAdjust="spacingAndGlyphs" >23rd Ave</text>
<text transform="translate(271.8 135.8) rotate(-7.5)" x="0" y="2.41" font-size="6.70" fill="#5b5b5d" text-anchor="middle" stroke="#5b5b5d" stroke-width="0.20" textLength="57.0" lengthAdjust="spacingAndGlyphs" >Bowery Bay Blvd</text>
<text transform="translate(266.3 243.1) rotate(-7.0)" x="0" y="2.41" font-size="6.70" fill="#5b5b5d" text-anchor="middle" stroke="#5b5b5d" stroke-width="0.20" textLength="35.0" lengthAdjust="spacingAndGlyphs" >Fiorello Ln</text>
<path id="tp1" d="M289.8 294.5 C292.2 291.0 294.8 287.6 297.0 284.0 C298.7 281.1 300.7 278.2 301.5 275.0 C302.6 271.0 302.8 266.7 302.6 262.5 C302.4 258.3 301.3 254.2 300.5 250.0 C299.6 245.3 298.6 240.7 297.6 236.0" fill="none" stroke="none"/>
<text font-size="6.70" fill="#5b5b5d" textLength="62.0" lengthAdjust="spacingAndGlyphs" stroke="#5b5b5d" stroke-width="0.20"><textPath href="#tp1" startOffset="0">Marine Terminal Rd</textPath></text>
<text transform="translate(429.8 234.2) rotate(-35.0)" x="0" y="2.41" font-size="6.70" fill="#5b5b5d" text-anchor="middle" stroke="#5b5b5d" stroke-width="0.20" textLength="37.0" lengthAdjust="spacingAndGlyphs" >Runway Dr</text>
<path id="tp2" d="M476.2 205.6 C479.3 202.0 482.4 198.3 485.5 194.7 C488.7 191.1 491.7 187.2 495.2 183.9 C499.9 179.4 505.0 175.2 510.2 171.2 C514.2 168.1 518.4 165.2 522.7 162.5 C526.2 160.3 529.9 158.5 533.5 156.5" fill="none" stroke="none"/>
<text font-size="6.70" fill="#5b5b5d" textLength="72.0" lengthAdjust="spacingAndGlyphs" stroke="#5b5b5d" stroke-width="0.20"><textPath href="#tp2" startOffset="0">Central Terminal Drive</textPath></text>
<text transform="translate(466.3 261.5) rotate(-6.0)" x="0" y="2.41" font-size="6.70" fill="#5b5b5d" text-anchor="middle" stroke="#5b5b5d" stroke-width="0.20" textLength="42.0" lengthAdjust="spacingAndGlyphs" >Ditmars Blvd</text>
<text transform="translate(512.0 285.7) rotate(-62.0)" x="0" y="2.41" font-size="6.70" fill="#5b5b5d" text-anchor="middle" stroke="#5b5b5d" stroke-width="0.20" textLength="26.0" lengthAdjust="spacingAndGlyphs" >94th St</text>
<text transform="translate(373.2 304.4) rotate(-33.5)" x="0" y="4.07" font-size="11.30" fill="#68696b" text-anchor="middle" stroke="#68696b" stroke-width="0.20" textLength="95.0" lengthAdjust="spacingAndGlyphs" >Grand Central Pkwy</text>
<text transform="translate(597.0 329.8) rotate(-8.0)" x="0" y="2.41" font-size="6.70" fill="#5b5b5d" text-anchor="middle" stroke="#5b5b5d" stroke-width="0.20" textLength="30.0" lengthAdjust="spacingAndGlyphs" >23rd Ave</text>
<text transform="translate(552.2 193.0) rotate(-11.0)" x="0" y="2.41" font-size="6.70" fill="#5b5b5d" text-anchor="middle" stroke="#5b5b5d" stroke-width="0.20" textLength="44.0" lengthAdjust="spacingAndGlyphs" >LaGuardia Rd</text>
<text transform="translate(611.3 193.8) rotate(7.0)" x="0" y="2.41" font-size="6.70" fill="#5b5b5d" text-anchor="middle" stroke="#5b5b5d" stroke-width="0.20" textLength="59.5" lengthAdjust="spacingAndGlyphs" >GCP Service Road</text>
<text transform="translate(599.0 221.5) rotate(3.0)" x="0" y="2.41" font-size="6.70" fill="#5b5b5d" text-anchor="middle" stroke="#5b5b5d" stroke-width="0.20" textLength="39.6" lengthAdjust="spacingAndGlyphs" >GCP Flyover</text>
<path id="tp3" d="M623.3 212.4 C630.9 214.0 638.6 215.1 646.0 217.3 C654.0 219.6 661.9 222.3 669.4 225.8 C677.5 229.6 685.2 234.3 692.8 239.0 C699.2 242.9 705.4 247.2 711.5 251.6 C717.8 256.2 723.8 261.2 730.0 266.0" fill="none" stroke="none"/>
<text font-size="6.60" fill="#5b5b5d" textLength="98.0" lengthAdjust="spacingAndGlyphs" stroke="#5b5b5d" stroke-width="0.20"><textPath href="#tp3" startOffset="0">Grand Central Parkway West</textPath></text>
<path id="tp4" d="M621.0 218.8 C628.8 220.6 636.7 222.0 644.4 224.3 C652.4 226.7 660.3 229.2 667.8 232.8 C676.0 236.7 683.5 242.1 691.3 246.8 C696.7 250.1 702.3 253.3 707.5 257.0 C713.6 261.4 719.2 266.3 725.0 271.0" fill="none" stroke="none"/>
<text font-size="6.60" fill="#5b5b5d" textLength="95.0" lengthAdjust="spacingAndGlyphs" stroke="#5b5b5d" stroke-width="0.20"><textPath href="#tp4" startOffset="0">Grand Central Parkway East</textPath></text>
<text transform="translate(698.7 220.4) rotate(37.0)" x="0" y="2.41" font-size="6.70" fill="#5b5b5d" text-anchor="middle" stroke="#5b5b5d" stroke-width="0.20" textLength="45.8" lengthAdjust="spacingAndGlyphs" >LaGuardia Rd</text>
<text transform="translate(767.3 276.0) rotate(41.0)" x="0" y="2.41" font-size="6.70" fill="#5b5b5d" text-anchor="middle" stroke="#5b5b5d" stroke-width="0.20" textLength="46.0" lengthAdjust="spacingAndGlyphs" >LaGuardia Rd</text>
<text transform="translate(762.6 300.2) rotate(39.0)" x="0" y="4.07" font-size="11.30" fill="#68696b" text-anchor="middle" stroke="#68696b" stroke-width="0.20" textLength="93.0" lengthAdjust="spacingAndGlyphs" >Grand Central Pkwy</text>
<text transform="translate(770.2 352.0) rotate(36.5)" x="0" y="2.41" font-size="6.70" fill="#5b5b5d" text-anchor="middle" stroke="#5b5b5d" stroke-width="0.20" textLength="45.0" lengthAdjust="spacingAndGlyphs" >Ditmars Blvd</text>
<text x="70.0" y="83.6" font-size="7.90" fill="#1d1d1f" stroke="#1d1d1f" stroke-width="0.20" textLength="32.5" lengthAdjust="spacingAndGlyphs" font-weight="bold" text-anchor="middle" >LaGuardia</text>
<text x="70.0" y="92.7" font-size="7.90" fill="#1d1d1f" stroke="#1d1d1f" stroke-width="0.20" textLength="28.8" lengthAdjust="spacingAndGlyphs" font-weight="bold" text-anchor="middle" >Discount</text>
<text x="70.0" y="101.8" font-size="7.90" fill="#1d1d1f" stroke="#1d1d1f" stroke-width="0.20" textLength="36.5" lengthAdjust="spacingAndGlyphs" font-weight="bold" text-anchor="middle" >Parking Lot</text>
<text x="281.3" y="185.6" font-size="7.90" fill="#1d1d1f" stroke="#1d1d1f" stroke-width="0.20" textLength="37.0" lengthAdjust="spacingAndGlyphs" font-weight="bold" text-anchor="middle" >Terminal A</text>
<text x="281.3" y="193.6" font-size="7.90" fill="#1d1d1f" stroke="#1d1d1f" stroke-width="0.20" textLength="27.0" lengthAdjust="spacingAndGlyphs" font-weight="bold" text-anchor="middle" >Parking</text>
<text x="271.1" y="269.9" font-size="7.90" fill="#1d1d1f" stroke="#1d1d1f" stroke-width="0.20" textLength="25.5" lengthAdjust="spacingAndGlyphs" font-weight="bold" text-anchor="middle" >Prepaid</text>
<text x="271.1" y="277.7" font-size="7.90" fill="#1d1d1f" stroke="#1d1d1f" stroke-width="0.20" textLength="30.0" lengthAdjust="spacingAndGlyphs" font-weight="bold" text-anchor="middle" >Economy</text>
<text x="271.1" y="285.3" font-size="7.90" fill="#1d1d1f" stroke="#1d1d1f" stroke-width="0.20" textLength="24.0" lengthAdjust="spacingAndGlyphs" font-weight="bold" text-anchor="middle" >Parking</text>
<text x="540.4" y="178.4" font-size="7.90" fill="#1d1d1f" stroke="#1d1d1f" stroke-width="0.20" textLength="37.5" lengthAdjust="spacingAndGlyphs" font-weight="bold" text-anchor="middle" >Terminal B</text>
<text x="540.4" y="186.0" font-size="7.90" fill="#1d1d1f" stroke="#1d1d1f" stroke-width="0.20" textLength="26.6" lengthAdjust="spacingAndGlyphs" font-weight="bold" text-anchor="middle" >Parking</text>
<text x="778.1" y="258.1" font-size="7.90" fill="#1d1d1f" stroke="#1d1d1f" stroke-width="0.20" textLength="37.5" lengthAdjust="spacingAndGlyphs" font-weight="bold" text-anchor="middle" >Terminal C</text>
<text x="778.1" y="266.0" font-size="7.90" fill="#1d1d1f" stroke="#1d1d1f" stroke-width="0.20" textLength="26.3" lengthAdjust="spacingAndGlyphs" font-weight="bold" text-anchor="middle" >Parking</text>
<text x="528.6" y="310.6" font-size="7.90" fill="#1d1d1f" stroke="#1d1d1f" stroke-width="0.20" textLength="12.7" lengthAdjust="spacingAndGlyphs" font-weight="bold" text-anchor="middle" >Cell</text>
<text x="528.6" y="318.8" font-size="7.90" fill="#1d1d1f" stroke="#1d1d1f" stroke-width="0.20" textLength="21.6" lengthAdjust="spacingAndGlyphs" font-weight="bold" text-anchor="middle" >Phone</text>
<text x="528.6" y="326.0" font-size="7.90" fill="#1d1d1f" stroke="#1d1d1f" stroke-width="0.20" textLength="11.0" lengthAdjust="spacingAndGlyphs" font-weight="bold" text-anchor="middle" >Lot</text>
<text x="254.8" y="99.6" font-size="12.60" fill="#1d1d1f" stroke="#1d1d1f" stroke-width="0.55" textLength="65.5" lengthAdjust="spacingAndGlyphs" text-anchor="middle" >Marine Air</text>
<text x="254.8" y="111.6" font-size="12.60" fill="#1d1d1f" stroke="#1d1d1f" stroke-width="0.55" textLength="56.0" lengthAdjust="spacingAndGlyphs" text-anchor="middle" >Terminal</text>
<path d="M264.5 117.5 L274.2 151" stroke="#333" stroke-width="0.5" fill="none"/><circle cx="274.4" cy="152" r="1.5" fill="#111"/>
<text x="330.8" y="160.0" font-size="12.40" fill="#1d1d1f" stroke="#1d1d1f" stroke-width="0.55" textLength="68.8" lengthAdjust="spacingAndGlyphs" >Terminal A</text>
<text x="654.3" y="92.8" font-size="12.40" fill="#1d1d1f" stroke="#1d1d1f" stroke-width="0.55" textLength="68.4" lengthAdjust="spacingAndGlyphs" >Terminal B</text>
<text x="888.3" y="233.0" font-size="12.40" fill="#1d1d1f" stroke="#1d1d1f" stroke-width="0.55" textLength="69.6" lengthAdjust="spacingAndGlyphs" >Terminal C</text>
<text x="331.8" y="146.3" font-size="7.70" fill="#222224" stroke="#222224" stroke-width="0.35" textLength="48.8" lengthAdjust="spacingAndGlyphs" >Gates A1-A6</text>
<text x="580.0" y="70.7" font-size="7.70" fill="#222224" stroke="#222224" stroke-width="0.35" textLength="47.0" lengthAdjust="spacingAndGlyphs" >Gates 11–31</text>
<text x="711.0" y="112.9" font-size="7.70" fill="#222224" stroke="#222224" stroke-width="0.35" textLength="48.5" lengthAdjust="spacingAndGlyphs" >Gates 40-59</text>
<text x="806.0" y="151.6" font-size="7.70" fill="#222224" stroke="#222224" stroke-width="0.35" textLength="50.6" lengthAdjust="spacingAndGlyphs" >Gates 60-69</text>
<text x="863.2" y="201.8" font-size="7.70" fill="#222224" stroke="#222224" stroke-width="0.35" textLength="48.4" lengthAdjust="spacingAndGlyphs" >Gates 70-79</text>
<text x="925.6" y="265.9" font-size="7.70" fill="#222224" stroke="#222224" stroke-width="0.35" textLength="53.8" lengthAdjust="spacingAndGlyphs" >Gates 81-85B</text>
<text x="973.7" y="295.3" font-size="7.70" fill="#222224" stroke="#222224" stroke-width="0.35" textLength="49.7" lengthAdjust="spacingAndGlyphs" >Gates 92-98</text>
<text x="313.8" y="163.0" font-size="6.30" fill="#3a3a3c" textLength="12.0" lengthAdjust="spacingAndGlyphs" font-weight="bold" >Q47</text>
<text x="313.8" y="170.2" font-size="6.30" fill="#3a3a3c" textLength="24.5" lengthAdjust="spacingAndGlyphs" font-weight="bold" >M60 SBS</text>
<text x="313.8" y="177.6" font-size="6.30" fill="#3a3a3c" textLength="12.0" lengthAdjust="spacingAndGlyphs" font-weight="bold" >Q48</text>
<text x="643.0" y="128.4" font-size="6.30" fill="#3a3a3c" textLength="25.0" lengthAdjust="spacingAndGlyphs" font-weight="bold" >M60 SBS</text>
<text x="643.0" y="135.4" font-size="6.30" fill="#3a3a3c" textLength="12.0" lengthAdjust="spacingAndGlyphs" font-weight="bold" >Q48</text>
<text x="643.0" y="142.5" font-size="6.30" fill="#3a3a3c" textLength="12.0" lengthAdjust="spacingAndGlyphs" font-weight="bold" >Q72</text>
<text x="643.0" y="149.6" font-size="6.30" fill="#3a3a3c" textLength="24.0" lengthAdjust="spacingAndGlyphs" font-weight="bold" >Q70 SBS</text>
<path d="M641.6 139.7 L622.8 172.5" stroke="#a9aaad" stroke-width="1.25" fill="none"/>
<text x="748.7" y="207.5" font-size="6.30" fill="#3a3a3c" textLength="25.0" lengthAdjust="spacingAndGlyphs" font-weight="bold" text-anchor="end" >M60 SBS</text>
<text x="748.7" y="214.6" font-size="6.30" fill="#3a3a3c" textLength="12.0" lengthAdjust="spacingAndGlyphs" font-weight="bold" text-anchor="end" >Q48</text>
<text x="748.7" y="221.6" font-size="6.30" fill="#3a3a3c" textLength="12.0" lengthAdjust="spacingAndGlyphs" font-weight="bold" text-anchor="end" >Q72</text>
<text x="748.7" y="228.7" font-size="6.30" fill="#3a3a3c" textLength="24.0" lengthAdjust="spacingAndGlyphs" font-weight="bold" text-anchor="end" >Q70 SBS</text>
<path d="M742.5 232.8 L769.7 234.7" stroke="#555" stroke-width="0.5" fill="none"/>
<text x="530.0" y="254.2" font-size="6.30" fill="#3a3a3c" textLength="12.0" lengthAdjust="spacingAndGlyphs" font-weight="bold" >Q33</text>
<text x="755.7" y="333.7" font-size="6.30" fill="#3a3a3c" textLength="12.0" lengthAdjust="spacingAndGlyphs" font-weight="bold" >Q23</text>
<text x="688.4" y="183.8" font-size="6.20" fill="#3a3a3c" textLength="60.0" lengthAdjust="spacingAndGlyphs" font-weight="bold" >The Atrium Business</text>
<text x="688.4" y="191.3" font-size="6.20" fill="#3a3a3c" textLength="62.0" lengthAdjust="spacingAndGlyphs" font-weight="bold" >&amp; Conference Center</text>
<path d="M685.6 182.9 L676.3 193.8" stroke="#a9aaad" stroke-width="1.25" fill="none"/>
<text x="715.9" y="311.0" font-size="6.20" fill="#4a4a4c" textLength="27.5" lengthAdjust="spacingAndGlyphs" font-weight="bold" >New York</text>
<text x="715.9" y="318.0" font-size="6.20" fill="#4a4a4c" textLength="30.5" lengthAdjust="spacingAndGlyphs" font-weight="bold" >LaGuardia</text>
<text x="715.9" y="325.0" font-size="6.20" fill="#4a4a4c" textLength="48.0" lengthAdjust="spacingAndGlyphs" font-weight="bold" >Airport Marriott</text>
<text x="728.5" y="342.3" font-size="6.20" fill="#4a4a4c" textLength="39.5" lengthAdjust="spacingAndGlyphs" font-weight="bold" text-anchor="end" >Hampton Inn</text>
<text x="728.5" y="349.5" font-size="6.20" fill="#4a4a4c" textLength="27.5" lengthAdjust="spacingAndGlyphs" font-weight="bold" text-anchor="end" >New York</text>
<text x="728.5" y="356.5" font-size="6.20" fill="#4a4a4c" textLength="54.0" lengthAdjust="spacingAndGlyphs" font-weight="bold" text-anchor="end" >LaGuardia Airport</text>
<text x="755.4" y="365.3" font-size="6.20" fill="#4a4a4c" textLength="30.5" lengthAdjust="spacingAndGlyphs" font-weight="bold" text-anchor="end" >LaGuardia</text>
<text x="755.4" y="372.3" font-size="6.20" fill="#4a4a4c" textLength="34.0" lengthAdjust="spacingAndGlyphs" font-weight="bold" text-anchor="end" >Plaza Hotel</text>
<path d="M264 357.3 L274.7 349.8" stroke="#333" stroke-width="0.5"/>
<rect x="248.2" y="357.9" width="53.3" height="8.1" fill="#ffc60a" stroke="#6b5a1a" stroke-width="0.5"/>
<text x="274.9" y="364.7" font-size="7.30" fill="#111" textLength="50.0" lengthAdjust="spacingAndGlyphs" font-weight="bold" text-anchor="middle" >EXIT 5 EB &amp; WB</text>
<path d="M430.2 268.3 L430.2 271.6" stroke="#333" stroke-width="0.5"/>
<rect x="402.3" y="260.0" width="36.3" height="8.3" fill="#ffc60a" stroke="#6b5a1a" stroke-width="0.5"/>
<text x="420.5" y="266.9" font-size="7.30" fill="#111" textLength="33.0" lengthAdjust="spacingAndGlyphs" font-weight="bold" text-anchor="middle" >EXIT 6 EB</text>
<path d="M555.5 225 L555.5 228" stroke="#333" stroke-width="0.5"/>
<rect x="529.3" y="228.0" width="36.4" height="8.2" fill="#ffc60a" stroke="#6b5a1a" stroke-width="0.5"/>
<text x="547.5" y="234.8" font-size="7.30" fill="#111" textLength="33.0" lengthAdjust="spacingAndGlyphs" font-weight="bold" text-anchor="middle" >EXIT 7 EB</text>
<path d="M816.6 346.3 L816.6 364.4" stroke="#555" stroke-width="0.5"/>
<rect x="796.3" y="364.4" width="98.7" height="15.6" fill="#ffc60a" stroke="#6b5a1a" stroke-width="0.5"/>
<text x="845.6" y="370.7" font-size="6.90" fill="#111" textLength="33.2" lengthAdjust="spacingAndGlyphs" font-weight="bold" text-anchor="middle" >EXIT 7 WB</text>
<text x="845.6" y="377.9" font-size="6.90" fill="#111" textLength="86.3" lengthAdjust="spacingAndGlyphs" font-weight="bold" text-anchor="middle" >(Terminals B, C &amp; 94th St)</text>
<text x="224.0" y="295.7" font-size="9.90" fill="#d2222d" stroke="#d2222d" stroke-width="0.15" textLength="20.8" lengthAdjust="spacingAndGlyphs" font-weight="bold" font-style="italic" >AVIS</text>
<text x="229.9" y="313.9" font-size="9.6" font-weight="bold" font-style="italic" fill="#111" stroke="#111" stroke-width="0.9" textLength="24.4" lengthAdjust="spacingAndGlyphs">Hertz</text>
<text x="230.5" y="313.4" font-size="9.6" font-weight="bold" font-style="italic" fill="#f5d21f" textLength="24.4" lengthAdjust="spacingAndGlyphs">Hertz</text>
<rect x="246" y="381.1" width="7.2" height="6.9" fill="#16b07a"/><rect x="253.1" y="381.1" width="27" height="6.9" fill="#0c0c0c"/>
<path d="M246.6 384.9 h2.6" stroke="#fff" stroke-width="0.7" fill="none"/>
<text x="248.8" y="386.5" font-size="6.40" fill="#fff" textLength="30.4" lengthAdjust="spacingAndGlyphs" font-weight="bold" >enterprise</text>
<text x="404.9" y="357.5" font-size="8.40" fill="#2b2f7e" stroke="#2b2f7e" stroke-width="0.20" textLength="24.0" lengthAdjust="spacingAndGlyphs" font-weight="bold" >Budget</text>
<rect x="404.7" y="358.1" width="24.4" height="5.4" fill="#f58a1f"/><path d="M421 363.5 L427.3 358.6 L428.4 358.6 L423.6 363.5 Z" fill="#fff"/>
<rect x="404.6" y="365.5" width="24.8" height="12.3" fill="#fff" stroke="#ececef" stroke-width="0.6"/>
<text x="416.8" y="373.2" font-size="5.80" fill="#1b2455" stroke="#1b2455" stroke-width="0.15" textLength="19.6" lengthAdjust="spacingAndGlyphs" font-weight="bold" text-anchor="middle" >Payless</text>
<rect x="542.5" y="258.4" width="34.4" height="9.2" fill="#0b8a5f"/>
<path d="M544.2 265.6 q1.2 -1.4 2.4 -0.4 t2.4 -0.6 M544.8 263.6 q1.2 -1.4 2.4 -0.4 t2.4 -0.6 M545.4 261.6 q1.2 -1.4 2.4 -0.4 t2.4 -0.6 M546.4 259.8 l-1.6 5.6 M548.8 259.6 l-1.6 5.8" stroke="#fff" stroke-width="0.55" fill="none"/>
<text x="552.2" y="265.3" font-size="6.00" fill="#fff" textLength="22.4" lengthAdjust="spacingAndGlyphs" font-weight="bold" font-style="italic" >National</text>
<rect x="548.2" y="270.4" width="24.8" height="11.2" fill="#1a58a6" stroke="#d9c63a" stroke-width="0.45"/>
<text x="561.0" y="278.3" font-size="6.20" fill="#f4e01c" stroke="#f4e01c" stroke-width="0.25" textLength="21.6" lengthAdjust="spacingAndGlyphs" font-weight="bold" text-anchor="middle" >Alamo</text>
</g>
<g id="legend">
<g transform="translate(209.50 434.40) scale(0.9792)"><rect width="24" height="24" fill="#35c759"/><text x="12.3" y="21.6" font-size="25.4" font-weight="bold" text-anchor="middle" fill="#fff">P</text></g>
<text x="244.2" y="449.7" font-size="11.50" fill="#58595b" stroke="#58595b" stroke-width="0.30" textLength="36.8" lengthAdjust="spacingAndGlyphs" font-weight="bold" >Parking</text>
<g transform="translate(209.50 472.70) scale(0.9792)"><rect width="24" height="24" fill="#35c759"/><circle cx="8.6" cy="5.4" r="2.3" fill="#fff"/><circle cx="7.9" cy="5.4" r="0.75" fill="#35c759"/><path fill="#fff" d="M10 4.6 L18 4.6 L18 6.2 L17.2 6.2 L17.2 7.4 L15.8 7.4 L15.8 6.2 L15 6.2 L15 7 L14 7 L14 6.2 L10 6.2 Z"/><g transform="translate(2.64 5.60) scale(0.780)"><path fill="#fff" d="M8.2 6.4 L15.8 6.4 Q17 6.4 17.5 7.6 L19.2 11.6 Q21.4 12 21.4 14 L21.4 17.6 L2.6 17.6 L2.6 14 Q2.6 12 4.8 11.6 L6.5 7.6 Q7 6.4 8.2 6.4 Z"/><rect x="3.8" y="17" width="4" height="4.4" rx="0.8" fill="#fff"/><rect x="16.2" y="17" width="4" height="4.4" rx="0.8" fill="#fff"/><path fill="#35c759" d="M8.6 8 L15.4 8 L16.8 11.4 L7.2 11.4 Z"/><circle cx="5.6" cy="14.4" r="1.25" fill="#35c759"/><circle cx="18.4" cy="14.4" r="1.25" fill="#35c759"/></g></g>
<text x="244.2" y="488.2" font-size="11.50" fill="#58595b" stroke="#58595b" stroke-width="0.30" textLength="87.5" lengthAdjust="spacingAndGlyphs" font-weight="bold" >Rental Car Shuttle</text>
<g transform="translate(209.50 510.00) scale(0.9792)"><rect width="24" height="24" fill="#231f20"/><circle cx="9.2" cy="4.6" r="1.7" fill="#fff"/><path fill="#fff" d="M7 6.8 L11.4 6.8 Q12.2 6.8 12.2 7.8 L12.2 13.4 L11.3 13.4 L11.3 21.4 L9.6 21.4 L9.6 14.4 L8.9 14.4 L8.9 21.4 L7.2 21.4 L7.2 13.4 L6.3 13.4 L6.3 9 L4.6 10.4 L4 9.6 L6.2 7.4 Q6.5 6.8 7 6.8 Z"/><path fill="#fff" d="M3.3 10.4 L5.1 10.4 L5.3 14 L3.1 14 Z"/><path stroke="#fff" stroke-width="0.5" fill="none" d="M12 12.6 L15.8 16"/><path fill="#fff" d="M14.2 16.6 L15.4 15 L16.6 16 L20 16 L20.8 14.6 L21.2 16.6 L20.8 18 L20.8 21.4 L19.6 21.4 L19.6 19 L17 19 L17 21.4 L15.8 21.4 L15.8 18.4 L14.2 17.8 Z"/></g>
<text x="244.2" y="525.4" font-size="11.50" fill="#58595b" stroke="#58595b" stroke-width="0.30" textLength="71.5" lengthAdjust="spacingAndGlyphs" font-weight="bold" >Pet Relief Area</text>
<g transform="translate(405.10 434.80) scale(0.9792)"><rect width="24" height="24" fill="#0a2fb4"/><rect x="3" y="8.6" width="4" height="10.6" rx="0.4" fill="#fff"/><rect x="5.6" y="5.4" width="1.1" height="3.6" fill="#fff"/><rect x="3.7" y="9.6" width="2.6" height="2.2" fill="#0a2fb4"/><rect x="3.7" y="12.8" width="2.6" height="0.7" fill="#0a2fb4"/><rect x="3.7" y="14.4" width="2.6" height="0.7" fill="#0a2fb4"/><rect x="3.7" y="16" width="2.6" height="0.7" fill="#0a2fb4"/><text x="15.3" y="19.6" font-size="20.5" font-weight="bold" text-anchor="middle" fill="#fff">P</text></g>
<text x="438.9" y="449.9" font-size="11.50" fill="#58595b" stroke="#58595b" stroke-width="0.30" textLength="69.5" lengthAdjust="spacingAndGlyphs" font-weight="bold" >Cell Phone Lot</text>
<g transform="translate(405.10 472.60) scale(0.9792)"><rect width="24" height="24" fill="#35c759"/><path fill="#fff" d="M3.6 8 L18 8 Q19.6 8 20.2 9.6 L21.6 13 L21.6 17.2 L2.4 17.2 L2.4 9.2 Q2.4 8 3.6 8 Z"/><path fill="#fff" d="M18.2 8 L18.8 6.2 L19.6 6.2 L19.4 8 Z"/><rect x="3.6" y="9.4" width="3" height="3" rx="0.4" fill="#35c759"/><rect x="7.4" y="9.4" width="3" height="3" rx="0.4" fill="#35c759"/><rect x="11.2" y="9.4" width="3" height="3" rx="0.4" fill="#35c759"/><path fill="#35c759" d="M15 9.4 L18.2 9.4 L19.6 12.4 L15 12.4 Z"/><circle cx="7" cy="17.2" r="2.5" fill="#35c759"/><circle cx="7" cy="17.2" r="1.9" fill="#fff"/><circle cx="7" cy="17.2" r="0.8" fill="#35c759"/><circle cx="17" cy="17.2" r="2.5" fill="#35c759"/><circle cx="17" cy="17.2" r="1.9" fill="#fff"/><circle cx="17" cy="17.2" r="0.8" fill="#35c759"/></g>
<text x="438.9" y="488.2" font-size="11.50" fill="#58595b" stroke="#58595b" stroke-width="0.30" textLength="63.5" lengthAdjust="spacingAndGlyphs" font-weight="bold" >Hotel Shuttle</text>
<g transform="translate(546.80 434.70) scale(0.9792)"><rect width="24" height="24" fill="#ffc60a"/><g transform="translate(0.00 0.20) scale(1.000)"><rect x="9.6" y="4.2" width="4.8" height="2.6" rx="0.4" fill="#231f20"/><path fill="#231f20" d="M8.2 6.4 L15.8 6.4 Q17 6.4 17.5 7.6 L19.2 11.6 Q21.4 12 21.4 14 L21.4 17.6 L2.6 17.6 L2.6 14 Q2.6 12 4.8 11.6 L6.5 7.6 Q7 6.4 8.2 6.4 Z"/><rect x="3.8" y="17" width="4" height="4.4" rx="0.8" fill="#231f20"/><rect x="16.2" y="17" width="4" height="4.4" rx="0.8" fill="#231f20"/><path fill="#ffc60a" d="M8.6 8 L15.4 8 L16.8 11.4 L7.2 11.4 Z"/><circle cx="5.6" cy="14.4" r="1.25" fill="#ffc60a"/><circle cx="18.4" cy="14.4" r="1.25" fill="#ffc60a"/></g></g>
<text x="580.5" y="449.9" font-size="11.50" fill="#58595b" stroke="#58595b" stroke-width="0.30" textLength="83.5" lengthAdjust="spacingAndGlyphs" font-weight="bold" >Taxi Pick Up Area</text>
<g transform="translate(546.80 472.60) scale(0.9792)"><rect width="24" height="24" fill="#231f20"/><g transform="translate(6.0 3.5) scale(0.78 0.86)"><g transform="translate(0.00 0) scale(1.000 1)"><path fill="#fff" d="M5 8.2 Q5 3.6 9.5 3.6 L14.5 3.6 Q19 3.6 19 8.2 L19 18.6 L5 18.6 Z"/><rect x="3.4" y="9.6" width="1.6" height="3" rx="0.5" fill="#fff"/><rect x="19" y="9.6" width="1.6" height="3" rx="0.5" fill="#fff"/><rect x="5.8" y="18" width="3.2" height="3.2" rx="0.6" fill="#fff"/><rect x="15" y="18" width="3.2" height="3.2" rx="0.6" fill="#fff"/><rect x="8.2" y="5" width="7.6" height="1.5" rx="0.6" fill="#231f20"/><path fill="#231f20" d="M6.8 8 L17.2 8 L17.2 13.6 L6.8 13.6 Z"/><circle cx="7.6" cy="16" r="0.95" fill="#231f20"/><circle cx="16.4" cy="16" r="0.95" fill="#231f20"/></g></g><text x="4.5" y="21.2" font-size="12" font-weight="bold" text-anchor="middle" fill="#fff">x</text></g>
<text x="580.5" y="481.5" font-size="11.50" fill="#58595b" stroke="#58595b" stroke-width="0.30" textLength="71.5" lengthAdjust="spacingAndGlyphs" font-weight="bold" >Express Buses</text>
<text x="580.5" y="493.8" font-size="11.50" fill="#58595b" stroke="#58595b" stroke-width="0.30" textLength="64.5" lengthAdjust="spacingAndGlyphs" font-weight="bold" >to Manhattan</text>
<g transform="translate(709.70 434.70) scale(0.9792)"><rect width="24" height="24" fill="#35c759"/><g transform="translate(0 -1.52) scale(1 1.09)"><g transform="translate(0.00 0) scale(1.000 1)"><path fill="#fff" d="M5 8.2 Q5 3.6 9.5 3.6 L14.5 3.6 Q19 3.6 19 8.2 L19 18.6 L5 18.6 Z"/><rect x="3.4" y="9.6" width="1.6" height="3" rx="0.5" fill="#fff"/><rect x="19" y="9.6" width="1.6" height="3" rx="0.5" fill="#fff"/><rect x="5.8" y="18" width="3.2" height="3.2" rx="0.6" fill="#fff"/><rect x="15" y="18" width="3.2" height="3.2" rx="0.6" fill="#fff"/><rect x="8.2" y="5" width="7.6" height="1.5" rx="0.6" fill="#35c759"/><path fill="#35c759" d="M6.8 8 L17.2 8 L17.2 13.6 L6.8 13.6 Z"/><circle cx="7.6" cy="16" r="0.95" fill="#35c759"/><circle cx="16.4" cy="16" r="0.95" fill="#35c759"/></g></g></g>
<text x="743.2" y="449.9" font-size="11.50" fill="#58595b" stroke="#58595b" stroke-width="0.30" textLength="97.5" lengthAdjust="spacingAndGlyphs" font-weight="bold" >MTA NYC Transit Bus</text>
<g transform="translate(709.70 472.20) scale(0.9792)"><rect width="24" height="24" fill="#e8344a"/><rect x="2.2" y="8" width="1.7" height="13" fill="#fff"/><rect x="20.1" y="10.6" width="1.7" height="10.4" fill="#fff"/><rect x="3.5" y="15.6" width="17" height="2.9" fill="#fff"/><path fill="#fff" d="M8.4 10.4 L19.4 12.6 L19.4 14.9 L8.4 14.9 Z"/><circle cx="6.3" cy="11.2" r="1.45" fill="#fff"/><rect x="4.8" y="13" width="3" height="1.9" fill="#fff"/></g>
<text x="744.3" y="487.5" font-size="11.50" fill="#58595b" stroke="#58595b" stroke-width="0.30" textLength="30.5" lengthAdjust="spacingAndGlyphs" font-weight="bold" >Hotels</text>
<text x="386.4" y="567.0" font-size="13.00" fill="#111" stroke="#111" stroke-width="0.30" textLength="277.0" lengthAdjust="spacingAndGlyphs" font-weight="bold" >Airport Shuttle Bus (Operates 24 hours daily)</text>
<g transform="translate(455.30 588.00) scale(0.9583)"><rect width="24" height="24" fill="#0a2fb4"/><g transform="translate(0 -1.0) scale(1 1.06)"><g transform="translate(0.00 0) scale(1.000 1)"><path fill="#fff" d="M5 8.2 Q5 3.6 9.5 3.6 L14.5 3.6 Q19 3.6 19 8.2 L19 18.6 L5 18.6 Z"/><rect x="3.4" y="9.6" width="1.6" height="3" rx="0.5" fill="#fff"/><rect x="19" y="9.6" width="1.6" height="3" rx="0.5" fill="#fff"/><rect x="5.8" y="18" width="3.2" height="3.2" rx="0.6" fill="#fff"/><rect x="15" y="18" width="3.2" height="3.2" rx="0.6" fill="#fff"/><rect x="8.2" y="5" width="7.6" height="1.5" rx="0.6" fill="#0a2fb4"/><path fill="#0a2fb4" d="M6.8 8 L17.2 8 L17.2 13.6 L6.8 13.6 Z"/><circle cx="7.6" cy="16" r="0.95" fill="#0a2fb4"/><circle cx="16.4" cy="16" r="0.95" fill="#0a2fb4"/></g></g></g>
<text x="489.3" y="597.2" font-size="11.90" fill="#111" stroke="#111" stroke-width="0.30" textLength="105.0" lengthAdjust="spacingAndGlyphs" font-weight="bold" >All Terminals Route</text>
<text x="489.3" y="610.0" font-size="11.50" fill="#6a6a6a" stroke="#6a6a6a" stroke-width="0.30" textLength="81.0" lengthAdjust="spacingAndGlyphs" font-weight="bold" >Terminals A, B, C</text>
</g>
</svg>
</body></html>
